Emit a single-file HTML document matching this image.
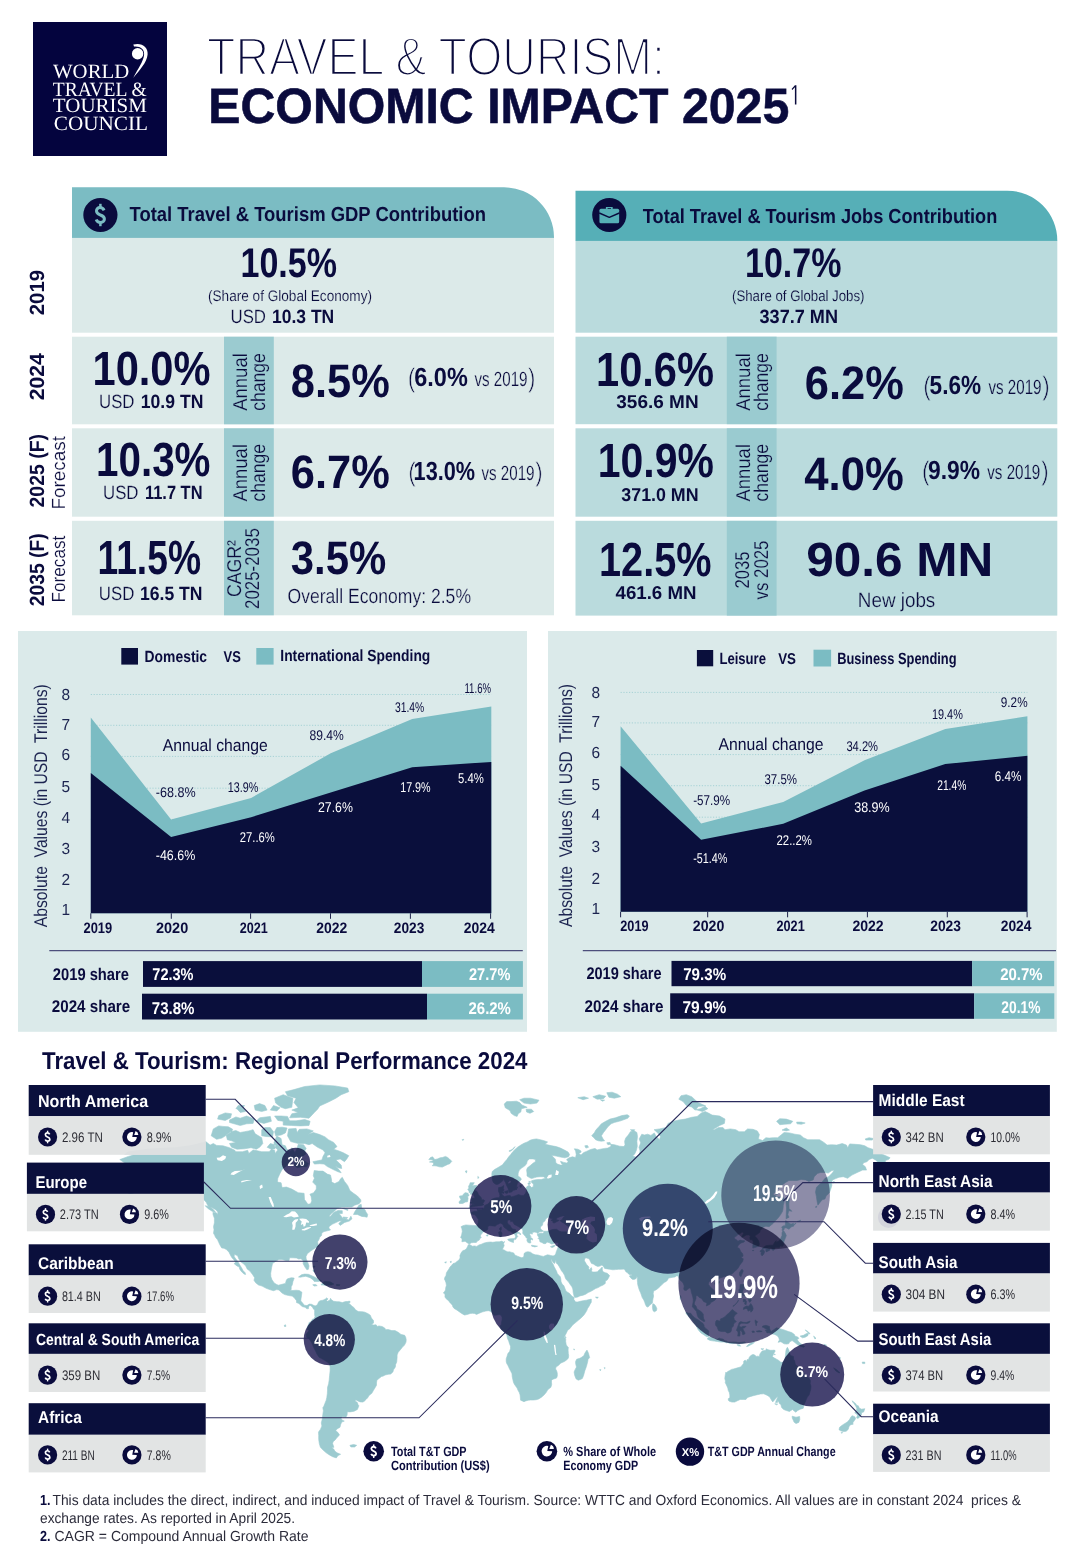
<!DOCTYPE html>
<html lang="en"><head><meta charset="utf-8"><title>Travel &amp; Tourism: Economic Impact 2025</title>
<style>html,body{margin:0;padding:0;background:#fff}body{width:1080px;height:1566px;overflow:hidden;font-family:"Liberation Sans",sans-serif}svg{display:block}text{white-space:pre}</style></head><body>
<svg width="1080" height="1566" viewBox="0 0 1080 1566" font-family="Liberation Sans, sans-serif" text-rendering="geometricPrecision">
<rect x="0.0" y="0.0" width="1080.0" height="1566.0" fill="#fff"/>
<g id="header">
<rect x="33.0" y="22.0" width="134.0" height="134.0" fill="#04043e"/>
<text x="53.0" y="78.4" font-family="Liberation Serif, sans-serif" font-size="20.3" font-weight="400" fill="#fff" textLength="76.2" lengthAdjust="spacingAndGlyphs">WORLD</text>
<text x="52.8" y="95.6" font-family="Liberation Serif, sans-serif" font-size="20.3" font-weight="400" fill="#fff" textLength="94.0" lengthAdjust="spacingAndGlyphs">TRAVEL &amp;</text>
<text x="52.8" y="112.4" font-family="Liberation Serif, sans-serif" font-size="20.3" font-weight="400" fill="#fff" textLength="94.2" lengthAdjust="spacingAndGlyphs">TOURISM</text>
<text x="53.8" y="129.8" font-family="Liberation Serif, sans-serif" font-size="20.3" font-weight="400" fill="#fff" textLength="94.2" lengthAdjust="spacingAndGlyphs">COUNCIL</text>
<circle cx="137.6" cy="53.8" r="5.7" fill="#fff"/>
<path d="M133.3,44.6 C141.5,42.3 148.3,46.8 147.6,54.6 C146.9,62.5 139.5,70.5 133.2,77.9 C137.6,69.5 143.6,61.5 144.1,54.6 C144.5,49.2 140.3,46.0 134.0,46.6 Z" fill="#fff"/>
<text x="207.0" y="75.2" font-family="Liberation Sans, sans-serif" font-size="53.8" font-weight="400" fill="#0a0b3d" textLength="458.0" lengthAdjust="spacingAndGlyphs" stroke="#fff" stroke-width="2.3">TRAVEL &amp; TOURISM:</text>
<text x="208.3" y="122.6" font-family="Liberation Sans, sans-serif" font-size="49.6" font-weight="700" fill="#0a0b3d" textLength="581.0" lengthAdjust="spacingAndGlyphs" stroke="#0a0b3d" stroke-width="0.6">ECONOMIC IMPACT 2025</text>
<path d="M791.6,88.9 L794.9,85.2 H796.4 V104.4 H794.9 V87.3 L792.3,90.0 Z" fill="#0a0b3d"/>
</g>
<g id="stats">
<path d="M72.0,187.3 H504.0 A50,50 0 0 1 554.0,237.3 V237.9 H72.0 Z" fill="#7bbcc3"/>
<rect x="72.0" y="237.9" width="482.0" height="94.8" fill="#dceae9"/>
<rect x="72.0" y="336.7" width="482.0" height="87.6" fill="#dceae9"/>
<rect x="224.0" y="336.7" width="49.8" height="87.6" fill="#9bcbd0"/>
<rect x="72.0" y="428.3" width="482.0" height="88.4" fill="#dceae9"/>
<rect x="224.0" y="428.3" width="49.8" height="88.4" fill="#9bcbd0"/>
<rect x="72.0" y="520.8" width="482.0" height="94.5" fill="#dceae9"/>
<rect x="224.0" y="520.8" width="49.8" height="94.5" fill="#9bcbd0"/>
<circle cx="100.4" cy="215.0" r="17.1" fill="#0a0b3d"/>
<g transform="translate(100.40,215.00) scale(1.0000)"><path d="M3.7,-4.6 C2.7,-6.8 0.9,-7.4 -0.4,-7.4 C-2.6,-7.4 -3.9,-5.8 -3.9,-4.0 C-3.9,-1.5 -1.8,-0.8 0.1,0.0 C2.4,0.9 4.0,1.8 4.0,4.0 C4.0,6.0 2.4,7.4 0.2,7.4 C-1.8,7.4 -3.4,6.6 -4.2,4.5" fill="none" stroke="#7bbcc3" stroke-width="3.0"/><rect x="-1.25" y="-11.2" width="2.5" height="3.6" fill="#7bbcc3"/><rect x="-1.25" y="7.6" width="2.5" height="3.6" fill="#7bbcc3"/></g>
<text x="129.5" y="220.7" font-family="Liberation Sans, sans-serif" font-size="20.3" font-weight="700" fill="#0a0b3d" textLength="356.5" lengthAdjust="spacingAndGlyphs">Total Travel &amp; Tourism GDP Contribution</text>
<text x="240.5" y="277.4" font-family="Liberation Sans, sans-serif" font-size="41.5" font-weight="700" fill="#0a0b3d" textLength="96.5" lengthAdjust="spacingAndGlyphs">10.5%</text>
<text x="208.0" y="300.6" font-family="Liberation Sans, sans-serif" font-size="15.3" font-weight="400" fill="#0a0b3d" textLength="164.0" lengthAdjust="spacingAndGlyphs" stroke="#dceae9" stroke-width="0.15">(Share of Global Economy)</text>
<text x="230.5" y="323.4" font-family="Liberation Sans, sans-serif" font-size="19.2" font-weight="400" fill="#0a0b3d" textLength="35.5" lengthAdjust="spacingAndGlyphs" stroke="#dceae9" stroke-width="0.2">USD</text>
<text x="272.0" y="323.4" font-family="Liberation Sans, sans-serif" font-size="19.2" font-weight="700" fill="#0a0b3d" textLength="62.2" lengthAdjust="spacingAndGlyphs">10.3 TN</text>
<text x="92.5" y="385.2" font-family="Liberation Sans, sans-serif" font-size="48.0" font-weight="700" fill="#0a0b3d" textLength="118.0" lengthAdjust="spacingAndGlyphs">10.0%</text>
<text x="99.0" y="408.4" font-family="Liberation Sans, sans-serif" font-size="19.2" font-weight="400" fill="#0a0b3d" textLength="35.5" lengthAdjust="spacingAndGlyphs" stroke="#dceae9" stroke-width="0.2">USD</text>
<text x="140.8" y="408.4" font-family="Liberation Sans, sans-serif" font-size="19.2" font-weight="700" fill="#0a0b3d" textLength="62.6" lengthAdjust="spacingAndGlyphs">10.9 TN</text>
<text x="290.8" y="397.4" font-family="Liberation Sans, sans-serif" font-size="47.0" font-weight="700" fill="#0a0b3d" textLength="99.0" lengthAdjust="spacingAndGlyphs">8.5%</text>
<text x="408.0" y="386.6" font-family="Liberation Sans, sans-serif" font-size="26.5" font-weight="400" fill="#0a0b3d" textLength="7.0" lengthAdjust="spacingAndGlyphs" stroke="#dceae9" stroke-width="0.6">(</text>
<text x="414.3" y="386.1" font-family="Liberation Sans, sans-serif" font-size="26.3" font-weight="700" fill="#0a0b3d" textLength="53.5" lengthAdjust="spacingAndGlyphs">6.0%</text>
<text x="474.5" y="386.1" font-family="Liberation Sans, sans-serif" font-size="20.6" font-weight="400" fill="#0a0b3d" textLength="53.0" lengthAdjust="spacingAndGlyphs" stroke="#dceae9" stroke-width="0.2">vs 2019</text>
<text x="528.3" y="386.6" font-family="Liberation Sans, sans-serif" font-size="26.5" font-weight="400" fill="#0a0b3d" textLength="7.0" lengthAdjust="spacingAndGlyphs" stroke="#dceae9" stroke-width="0.6">)</text>
<text x="96.0" y="476.1" font-family="Liberation Sans, sans-serif" font-size="48.0" font-weight="700" fill="#0a0b3d" textLength="114.5" lengthAdjust="spacingAndGlyphs">10.3%</text>
<text x="103.0" y="499.4" font-family="Liberation Sans, sans-serif" font-size="19.2" font-weight="400" fill="#0a0b3d" textLength="35.5" lengthAdjust="spacingAndGlyphs" stroke="#dceae9" stroke-width="0.2">USD</text>
<text x="145.0" y="499.4" font-family="Liberation Sans, sans-serif" font-size="19.2" font-weight="700" fill="#0a0b3d" textLength="57.5" lengthAdjust="spacingAndGlyphs">11.7 TN</text>
<text x="290.8" y="488.4" font-family="Liberation Sans, sans-serif" font-size="47.0" font-weight="700" fill="#0a0b3d" textLength="99.0" lengthAdjust="spacingAndGlyphs">6.7%</text>
<text x="408.6" y="480.6" font-family="Liberation Sans, sans-serif" font-size="26.5" font-weight="400" fill="#0a0b3d" textLength="7.0" lengthAdjust="spacingAndGlyphs" stroke="#dceae9" stroke-width="0.6">(</text>
<text x="413.6" y="480.1" font-family="Liberation Sans, sans-serif" font-size="26.3" font-weight="700" fill="#0a0b3d" textLength="61.5" lengthAdjust="spacingAndGlyphs">13.0%</text>
<text x="481.5" y="480.1" font-family="Liberation Sans, sans-serif" font-size="20.6" font-weight="400" fill="#0a0b3d" textLength="53.0" lengthAdjust="spacingAndGlyphs" stroke="#dceae9" stroke-width="0.2">vs 2019</text>
<text x="535.5" y="480.6" font-family="Liberation Sans, sans-serif" font-size="26.5" font-weight="400" fill="#0a0b3d" textLength="7.0" lengthAdjust="spacingAndGlyphs" stroke="#dceae9" stroke-width="0.6">)</text>
<text x="97.5" y="574.1" font-family="Liberation Sans, sans-serif" font-size="48.0" font-weight="700" fill="#0a0b3d" textLength="103.5" lengthAdjust="spacingAndGlyphs">11.5%</text>
<text x="98.8" y="600.0" font-family="Liberation Sans, sans-serif" font-size="19.2" font-weight="400" fill="#0a0b3d" textLength="35.5" lengthAdjust="spacingAndGlyphs" stroke="#dceae9" stroke-width="0.2">USD</text>
<text x="140.0" y="600.0" font-family="Liberation Sans, sans-serif" font-size="19.2" font-weight="700" fill="#0a0b3d" textLength="62.5" lengthAdjust="spacingAndGlyphs">16.5 TN</text>
<text x="290.8" y="574.1" font-family="Liberation Sans, sans-serif" font-size="47.0" font-weight="700" fill="#0a0b3d" textLength="95.5" lengthAdjust="spacingAndGlyphs">3.5%</text>
<text x="287.5" y="602.7" font-family="Liberation Sans, sans-serif" font-size="20.6" font-weight="400" fill="#0a0b3d" textLength="183.5" lengthAdjust="spacingAndGlyphs" stroke="#dceae9" stroke-width="0.25">Overall Economy: 2.5%</text>
<text transform="translate(246.6,410.8) rotate(-90)" font-family="Liberation Sans, sans-serif" font-size="20.0" font-weight="400" fill="#0a0b3d" textLength="57.6" lengthAdjust="spacingAndGlyphs" stroke="#9bcbd0" stroke-width="0.2">Annual</text>
<text transform="translate(264.6,410.8) rotate(-90)" font-family="Liberation Sans, sans-serif" font-size="20.0" font-weight="400" fill="#0a0b3d" textLength="57.6" lengthAdjust="spacingAndGlyphs" stroke="#9bcbd0" stroke-width="0.2">change</text>
<text transform="translate(246.6,501.6) rotate(-90)" font-family="Liberation Sans, sans-serif" font-size="20.0" font-weight="400" fill="#0a0b3d" textLength="57.6" lengthAdjust="spacingAndGlyphs" stroke="#9bcbd0" stroke-width="0.2">Annual</text>
<text transform="translate(264.6,501.6) rotate(-90)" font-family="Liberation Sans, sans-serif" font-size="20.0" font-weight="400" fill="#0a0b3d" textLength="57.6" lengthAdjust="spacingAndGlyphs" stroke="#9bcbd0" stroke-width="0.2">change</text>
<text transform="translate(240.8,597.0) rotate(-90)" font-family="Liberation Sans, sans-serif" font-size="20.0" font-weight="400" fill="#0a0b3d" textLength="57.0" lengthAdjust="spacingAndGlyphs" stroke="#9bcbd0" stroke-width="0.2">CAGR²</text>
<text transform="translate(258.8,609.0) rotate(-90)" font-family="Liberation Sans, sans-serif" font-size="20.0" font-weight="400" fill="#0a0b3d" textLength="80.8" lengthAdjust="spacingAndGlyphs" stroke="#9bcbd0" stroke-width="0.2">2025-2035</text>
<text transform="translate(44.3,315.3) rotate(-90)" font-family="Liberation Sans, sans-serif" font-size="20.6" font-weight="700" fill="#0a0b3d" textLength="45.5" lengthAdjust="spacingAndGlyphs">2019</text>
<text transform="translate(44.3,400.3) rotate(-90)" font-family="Liberation Sans, sans-serif" font-size="20.6" font-weight="700" fill="#0a0b3d" textLength="47.0" lengthAdjust="spacingAndGlyphs">2024</text>
<text transform="translate(44.3,507.5) rotate(-90)" font-family="Liberation Sans, sans-serif" font-size="20.6" font-weight="700" fill="#0a0b3d" textLength="73.5" lengthAdjust="spacingAndGlyphs">2025 (F)</text>
<text transform="translate(64.6,509.5) rotate(-90)" font-family="Liberation Sans, sans-serif" font-size="19.0" font-weight="400" fill="#0a0b3d" textLength="73.5" lengthAdjust="spacingAndGlyphs" stroke="#fff" stroke-width="0.2">Forecast</text>
<text transform="translate(44.3,606.3) rotate(-90)" font-family="Liberation Sans, sans-serif" font-size="20.6" font-weight="700" fill="#0a0b3d" textLength="73.0" lengthAdjust="spacingAndGlyphs">2035 (F)</text>
<text transform="translate(64.6,602.5) rotate(-90)" font-family="Liberation Sans, sans-serif" font-size="19.0" font-weight="400" fill="#0a0b3d" textLength="66.8" lengthAdjust="spacingAndGlyphs" stroke="#fff" stroke-width="0.2">Forecast</text>
<path d="M575.5,190.7 H1007.3 A50,50 0 0 1 1057.3,240.7 V240.9 H575.5 Z" fill="#56afb7"/>
<rect x="575.5" y="240.9" width="481.8" height="91.8" fill="#badbdd"/>
<rect x="575.5" y="336.7" width="481.8" height="87.5" fill="#badbdd"/>
<rect x="726.8" y="336.7" width="49.8" height="87.5" fill="#9acbd0"/>
<rect x="575.5" y="428.3" width="481.8" height="88.4" fill="#badbdd"/>
<rect x="726.8" y="428.3" width="49.8" height="88.4" fill="#9acbd0"/>
<rect x="575.5" y="520.8" width="481.8" height="94.8" fill="#badbdd"/>
<rect x="726.8" y="520.8" width="49.8" height="94.8" fill="#9acbd0"/>
<circle cx="609.3" cy="215.0" r="17.1" fill="#0a0b3d"/>
<rect x="599.45" y="208.70" width="19.70" height="14.50" rx="1.5" fill="#56afb7"/>
<path d="M605.90,208.90 V207.00 H612.70 V208.90 H611.00 V208.00 H607.60 V208.90 Z" fill="#56afb7"/>
<path d="M599.25,213.00 L609.30,217.30 L619.35,213.00" fill="none" stroke="#0a0b3d" stroke-width="1.45" stroke-linejoin="round"/>
<text x="642.8" y="222.7" font-family="Liberation Sans, sans-serif" font-size="20.3" font-weight="700" fill="#0a0b3d" textLength="354.5" lengthAdjust="spacingAndGlyphs">Total Travel &amp; Tourism Jobs Contribution</text>
<text x="745.0" y="277.4" font-family="Liberation Sans, sans-serif" font-size="41.5" font-weight="700" fill="#0a0b3d" textLength="96.5" lengthAdjust="spacingAndGlyphs">10.7%</text>
<text x="732.0" y="300.6" font-family="Liberation Sans, sans-serif" font-size="15.3" font-weight="400" fill="#0a0b3d" textLength="132.5" lengthAdjust="spacingAndGlyphs" stroke="#badbdd" stroke-width="0.15">(Share of Global Jobs)</text>
<text x="759.5" y="323.4" font-family="Liberation Sans, sans-serif" font-size="19.2" font-weight="700" fill="#0a0b3d" textLength="78.5" lengthAdjust="spacingAndGlyphs">337.7 MN</text>
<text x="596.0" y="386.1" font-family="Liberation Sans, sans-serif" font-size="48.0" font-weight="700" fill="#0a0b3d" textLength="118.0" lengthAdjust="spacingAndGlyphs">10.6%</text>
<text x="616.3" y="408.4" font-family="Liberation Sans, sans-serif" font-size="18.6" font-weight="700" fill="#0a0b3d" textLength="82.3" lengthAdjust="spacingAndGlyphs">356.6 MN</text>
<text x="804.8" y="399.1" font-family="Liberation Sans, sans-serif" font-size="47.0" font-weight="700" fill="#0a0b3d" textLength="99.0" lengthAdjust="spacingAndGlyphs">6.2%</text>
<text x="923.6" y="394.9" font-family="Liberation Sans, sans-serif" font-size="26.5" font-weight="400" fill="#0a0b3d" textLength="7.0" lengthAdjust="spacingAndGlyphs" stroke="#badbdd" stroke-width="0.6">(</text>
<text x="929.6" y="394.4" font-family="Liberation Sans, sans-serif" font-size="26.3" font-weight="700" fill="#0a0b3d" textLength="51.5" lengthAdjust="spacingAndGlyphs">5.6%</text>
<text x="988.5" y="394.4" font-family="Liberation Sans, sans-serif" font-size="20.6" font-weight="400" fill="#0a0b3d" textLength="53.0" lengthAdjust="spacingAndGlyphs" stroke="#badbdd" stroke-width="0.2">vs 2019</text>
<text x="1042.5" y="394.9" font-family="Liberation Sans, sans-serif" font-size="26.5" font-weight="400" fill="#0a0b3d" textLength="7.0" lengthAdjust="spacingAndGlyphs" stroke="#badbdd" stroke-width="0.6">)</text>
<text x="597.8" y="476.8" font-family="Liberation Sans, sans-serif" font-size="48.0" font-weight="700" fill="#0a0b3d" textLength="116.0" lengthAdjust="spacingAndGlyphs">10.9%</text>
<text x="621.3" y="501.1" font-family="Liberation Sans, sans-serif" font-size="18.6" font-weight="700" fill="#0a0b3d" textLength="77.3" lengthAdjust="spacingAndGlyphs">371.0 MN</text>
<text x="804.3" y="489.5" font-family="Liberation Sans, sans-serif" font-size="47.0" font-weight="700" fill="#0a0b3d" textLength="99.5" lengthAdjust="spacingAndGlyphs">4.0%</text>
<text x="922.3" y="479.6" font-family="Liberation Sans, sans-serif" font-size="26.5" font-weight="400" fill="#0a0b3d" textLength="7.0" lengthAdjust="spacingAndGlyphs" stroke="#badbdd" stroke-width="0.6">(</text>
<text x="928.0" y="479.1" font-family="Liberation Sans, sans-serif" font-size="26.3" font-weight="700" fill="#0a0b3d" textLength="52.0" lengthAdjust="spacingAndGlyphs">9.9%</text>
<text x="987.3" y="479.1" font-family="Liberation Sans, sans-serif" font-size="20.6" font-weight="400" fill="#0a0b3d" textLength="53.0" lengthAdjust="spacingAndGlyphs" stroke="#badbdd" stroke-width="0.2">vs 2019</text>
<text x="1041.5" y="479.6" font-family="Liberation Sans, sans-serif" font-size="26.5" font-weight="400" fill="#0a0b3d" textLength="7.0" lengthAdjust="spacingAndGlyphs" stroke="#badbdd" stroke-width="0.6">)</text>
<text x="599.0" y="576.1" font-family="Liberation Sans, sans-serif" font-size="48.0" font-weight="700" fill="#0a0b3d" textLength="112.5" lengthAdjust="spacingAndGlyphs">12.5%</text>
<text x="615.5" y="599.1" font-family="Liberation Sans, sans-serif" font-size="18.6" font-weight="700" fill="#0a0b3d" textLength="81.0" lengthAdjust="spacingAndGlyphs">461.6 MN</text>
<text x="806.3" y="576.1" font-family="Liberation Sans, sans-serif" font-size="48.0" font-weight="700" fill="#0a0b3d" textLength="187.0" lengthAdjust="spacingAndGlyphs">90.6 MN</text>
<text x="857.8" y="606.7" font-family="Liberation Sans, sans-serif" font-size="20.6" font-weight="400" fill="#0a0b3d" textLength="77.5" lengthAdjust="spacingAndGlyphs" stroke="#badbdd" stroke-width="0.25">New jobs</text>
<text transform="translate(749.9,410.8) rotate(-90)" font-family="Liberation Sans, sans-serif" font-size="20.0" font-weight="400" fill="#0a0b3d" textLength="57.6" lengthAdjust="spacingAndGlyphs" stroke="#9acbd0" stroke-width="0.2">Annual</text>
<text transform="translate(767.6,410.8) rotate(-90)" font-family="Liberation Sans, sans-serif" font-size="20.0" font-weight="400" fill="#0a0b3d" textLength="57.6" lengthAdjust="spacingAndGlyphs" stroke="#9acbd0" stroke-width="0.2">change</text>
<text transform="translate(749.9,501.6) rotate(-90)" font-family="Liberation Sans, sans-serif" font-size="20.0" font-weight="400" fill="#0a0b3d" textLength="57.6" lengthAdjust="spacingAndGlyphs" stroke="#9acbd0" stroke-width="0.2">Annual</text>
<text transform="translate(767.6,501.6) rotate(-90)" font-family="Liberation Sans, sans-serif" font-size="20.0" font-weight="400" fill="#0a0b3d" textLength="57.6" lengthAdjust="spacingAndGlyphs" stroke="#9acbd0" stroke-width="0.2">change</text>
<text transform="translate(749.3,588.5) rotate(-90)" font-family="Liberation Sans, sans-serif" font-size="20.0" font-weight="400" fill="#0a0b3d" textLength="37.0" lengthAdjust="spacingAndGlyphs" stroke="#9acbd0" stroke-width="0.2">2035</text>
<text transform="translate(768.2,599.5) rotate(-90)" font-family="Liberation Sans, sans-serif" font-size="20.0" font-weight="400" fill="#0a0b3d" textLength="59.0" lengthAdjust="spacingAndGlyphs" stroke="#9acbd0" stroke-width="0.2">vs 2025</text>
</g>
<g id="charts">
<rect x="18.0" y="631.0" width="509.0" height="400.8" fill="#dbeaea"/>
<rect x="121.3" y="648.0" width="16.7" height="16.6" fill="#0a0f3c"/>
<text x="144.6" y="661.8" font-family="Liberation Sans, sans-serif" font-size="16.2" font-weight="700" fill="#0a0b3d" textLength="62.5" lengthAdjust="spacingAndGlyphs">Domestic</text>
<text x="223.5" y="662.4" font-family="Liberation Sans, sans-serif" font-size="15.6" font-weight="700" fill="#0a0b3d" textLength="17.3" lengthAdjust="spacingAndGlyphs">VS</text>
<rect x="256.3" y="648.0" width="17.3" height="16.6" fill="#7bbcc3"/>
<text x="280.3" y="661.4" font-family="Liberation Sans, sans-serif" font-size="16.2" font-weight="700" fill="#0a0b3d" textLength="150.0" lengthAdjust="spacingAndGlyphs">International Spending</text>
<line x1="90.8" y1="694.5" x2="491.3" y2="694.5" stroke="#a6d2d5" stroke-width="1" stroke-dasharray="1.2 1.6"/>
<line x1="90.8" y1="725.3" x2="491.3" y2="725.3" stroke="#a6d2d5" stroke-width="1" stroke-dasharray="1.2 1.6"/>
<line x1="90.8" y1="756.4" x2="491.3" y2="756.4" stroke="#a6d2d5" stroke-width="1" stroke-dasharray="1.2 1.6"/>
<line x1="90.8" y1="788.2" x2="491.3" y2="788.2" stroke="#a6d2d5" stroke-width="1" stroke-dasharray="1.2 1.6"/>
<line x1="90.8" y1="819.4" x2="491.3" y2="819.4" stroke="#a6d2d5" stroke-width="1" stroke-dasharray="1.2 1.6"/>
<polygon points="90.8,717.5 171.1,819.4 251.1,798.0 330.7,753.3 412.2,719.1 491.3,706.5 491.3,913.3 90.8,913.3" fill="#7bbcc3"/>
<polygon points="90.8,773.1 171.1,837.1 251.1,817.2 330.7,792.4 412.2,767.2 491.3,761.9 491.3,913.3 90.8,913.3" fill="#0a0f3c"/>
<line x1="90.8" y1="913.3" x2="90.8" y2="918.8" stroke="#0a0f3c" stroke-width="0.9"/>
<line x1="171.3" y1="913.3" x2="171.3" y2="918.8" stroke="#0a0f3c" stroke-width="0.9"/>
<line x1="250.6" y1="913.3" x2="250.6" y2="918.8" stroke="#0a0f3c" stroke-width="0.9"/>
<line x1="330.5" y1="913.3" x2="330.5" y2="918.8" stroke="#0a0f3c" stroke-width="0.9"/>
<line x1="410.4" y1="913.3" x2="410.4" y2="918.8" stroke="#0a0f3c" stroke-width="0.9"/>
<line x1="490.6" y1="913.3" x2="490.6" y2="918.8" stroke="#0a0f3c" stroke-width="0.9"/>
<text x="61.6" y="699.6" font-family="Liberation Sans, sans-serif" font-size="16.0" font-weight="400" fill="#1c2450" textLength="8.6" lengthAdjust="spacingAndGlyphs">8</text>
<text x="61.6" y="729.7" font-family="Liberation Sans, sans-serif" font-size="16.0" font-weight="400" fill="#1c2450" textLength="8.6" lengthAdjust="spacingAndGlyphs">7</text>
<text x="61.6" y="760.3" font-family="Liberation Sans, sans-serif" font-size="16.0" font-weight="400" fill="#1c2450" textLength="8.6" lengthAdjust="spacingAndGlyphs">6</text>
<text x="61.6" y="792.0" font-family="Liberation Sans, sans-serif" font-size="16.0" font-weight="400" fill="#1c2450" textLength="8.6" lengthAdjust="spacingAndGlyphs">5</text>
<text x="61.6" y="822.6" font-family="Liberation Sans, sans-serif" font-size="16.0" font-weight="400" fill="#1c2450" textLength="8.6" lengthAdjust="spacingAndGlyphs">4</text>
<text x="61.6" y="854.4" font-family="Liberation Sans, sans-serif" font-size="16.0" font-weight="400" fill="#1c2450" textLength="8.6" lengthAdjust="spacingAndGlyphs">3</text>
<text x="61.6" y="885.0" font-family="Liberation Sans, sans-serif" font-size="16.0" font-weight="400" fill="#1c2450" textLength="8.6" lengthAdjust="spacingAndGlyphs">2</text>
<text x="61.6" y="915.0" font-family="Liberation Sans, sans-serif" font-size="16.0" font-weight="400" fill="#1c2450" textLength="8.6" lengthAdjust="spacingAndGlyphs">1</text>
<text transform="translate(46.6,927.2) rotate(-90)" font-family="Liberation Sans, sans-serif" font-size="18.4" font-weight="400" fill="#1c2450" textLength="243.0" lengthAdjust="spacingAndGlyphs">Absolute  Values (in USD  Trillions)</text>
<text x="83.5" y="933.2" font-family="Liberation Sans, sans-serif" font-size="15.2" font-weight="700" fill="#0a0b3d" textLength="28.7" lengthAdjust="spacingAndGlyphs">2019</text>
<text x="156.0" y="933.2" font-family="Liberation Sans, sans-serif" font-size="15.2" font-weight="700" fill="#0a0b3d" textLength="32.2" lengthAdjust="spacingAndGlyphs">2020</text>
<text x="239.8" y="933.2" font-family="Liberation Sans, sans-serif" font-size="15.2" font-weight="700" fill="#0a0b3d" textLength="28.0" lengthAdjust="spacingAndGlyphs">2021</text>
<text x="316.2" y="933.2" font-family="Liberation Sans, sans-serif" font-size="15.2" font-weight="700" fill="#0a0b3d" textLength="31.0" lengthAdjust="spacingAndGlyphs">2022</text>
<text x="393.8" y="933.2" font-family="Liberation Sans, sans-serif" font-size="15.2" font-weight="700" fill="#0a0b3d" textLength="30.5" lengthAdjust="spacingAndGlyphs">2023</text>
<text x="463.8" y="933.2" font-family="Liberation Sans, sans-serif" font-size="15.2" font-weight="700" fill="#0a0b3d" textLength="31.0" lengthAdjust="spacingAndGlyphs">2024</text>
<text x="162.8" y="751.3" font-family="Liberation Sans, sans-serif" font-size="17.2" font-weight="400" fill="#0a0b3d" textLength="105.0" lengthAdjust="spacingAndGlyphs">Annual change</text>
<text x="155.8" y="796.8" font-family="Liberation Sans, sans-serif" font-size="14.1" font-weight="400" fill="#0a0b3d" textLength="39.8" lengthAdjust="spacingAndGlyphs">-68.8%</text>
<text x="227.8" y="792.0" font-family="Liberation Sans, sans-serif" font-size="14.1" font-weight="400" fill="#0a0b3d" textLength="30.5" lengthAdjust="spacingAndGlyphs">13.9%</text>
<text x="309.5" y="739.9" font-family="Liberation Sans, sans-serif" font-size="14.1" font-weight="400" fill="#0a0b3d" textLength="34.3" lengthAdjust="spacingAndGlyphs">89.4%</text>
<text x="395.0" y="712.4" font-family="Liberation Sans, sans-serif" font-size="14.1" font-weight="400" fill="#0a0b3d" textLength="29.3" lengthAdjust="spacingAndGlyphs">31.4%</text>
<text x="464.5" y="693.0" font-family="Liberation Sans, sans-serif" font-size="14.1" font-weight="400" fill="#0a0b3d" textLength="26.5" lengthAdjust="spacingAndGlyphs">11.6%</text>
<text x="155.8" y="859.5" font-family="Liberation Sans, sans-serif" font-size="14.1" font-weight="400" fill="#fff" textLength="39.4" lengthAdjust="spacingAndGlyphs">-46.6%</text>
<text x="239.8" y="841.8" font-family="Liberation Sans, sans-serif" font-size="14.1" font-weight="400" fill="#fff" textLength="35.0" lengthAdjust="spacingAndGlyphs">27..6%</text>
<text x="318.0" y="812.2" font-family="Liberation Sans, sans-serif" font-size="14.1" font-weight="400" fill="#fff" textLength="34.9" lengthAdjust="spacingAndGlyphs">27.6%</text>
<text x="400.2" y="791.7" font-family="Liberation Sans, sans-serif" font-size="14.1" font-weight="400" fill="#fff" textLength="30.4" lengthAdjust="spacingAndGlyphs">17.9%</text>
<text x="458.0" y="783.2" font-family="Liberation Sans, sans-serif" font-size="14.1" font-weight="400" fill="#fff" textLength="25.8" lengthAdjust="spacingAndGlyphs">5.4%</text>
<line x1="49.3" y1="950.7" x2="522.8" y2="950.7" stroke="#4d4f7c" stroke-width="1.2"/>
<text x="52.8" y="980.0" font-family="Liberation Sans, sans-serif" font-size="17.0" font-weight="700" fill="#0a0b3d" textLength="76.2" lengthAdjust="spacingAndGlyphs">2019 share</text>
<text x="51.8" y="1012.0" font-family="Liberation Sans, sans-serif" font-size="17.0" font-weight="700" fill="#0a0b3d" textLength="78.4" lengthAdjust="spacingAndGlyphs">2024 share</text>
<rect x="143.0" y="961.1" width="279.0" height="25.8" fill="#0a0f3c"/>
<rect x="422.0" y="961.1" width="100.9" height="25.8" fill="#7bbcc3"/>
<rect x="142.0" y="993.7" width="285.0" height="25.8" fill="#0a0f3c"/>
<rect x="427.0" y="993.7" width="95.9" height="25.8" fill="#7bbcc3"/>
<text x="152.3" y="980.2" font-family="Liberation Sans, sans-serif" font-size="17.0" font-weight="700" fill="#fff" textLength="41.2" lengthAdjust="spacingAndGlyphs">72.3%</text>
<text x="151.8" y="1013.8" font-family="Liberation Sans, sans-serif" font-size="17.0" font-weight="700" fill="#fff" textLength="42.7" lengthAdjust="spacingAndGlyphs">73.8%</text>
<text x="469.0" y="980.0" font-family="Liberation Sans, sans-serif" font-size="17.0" font-weight="700" fill="#fff" textLength="41.4" lengthAdjust="spacingAndGlyphs">27.7%</text>
<text x="468.5" y="1013.6" font-family="Liberation Sans, sans-serif" font-size="17.0" font-weight="700" fill="#fff" textLength="42.4" lengthAdjust="spacingAndGlyphs">26.2%</text>
<rect x="548.0" y="631.0" width="508.8" height="400.8" fill="#dbeaea"/>
<rect x="696.9" y="650.0" width="16.3" height="16.3" fill="#0a0f3c"/>
<text x="719.4" y="663.9" font-family="Liberation Sans, sans-serif" font-size="16.2" font-weight="700" fill="#0a0b3d" textLength="46.6" lengthAdjust="spacingAndGlyphs">Leisure</text>
<text x="778.2" y="664.4" font-family="Liberation Sans, sans-serif" font-size="15.6" font-weight="700" fill="#0a0b3d" textLength="17.8" lengthAdjust="spacingAndGlyphs">VS</text>
<rect x="813.5" y="649.7" width="17.6" height="16.8" fill="#7bbcc3"/>
<text x="837.2" y="663.5" font-family="Liberation Sans, sans-serif" font-size="16.2" font-weight="700" fill="#0a0b3d" textLength="119.4" lengthAdjust="spacingAndGlyphs">Business Spending</text>
<line x1="620.6" y1="692.4" x2="1027.4" y2="692.4" stroke="#a6d2d5" stroke-width="1" stroke-dasharray="1.2 1.6"/>
<line x1="620.6" y1="722.9" x2="1027.4" y2="722.9" stroke="#a6d2d5" stroke-width="1" stroke-dasharray="1.2 1.6"/>
<line x1="620.6" y1="754.6" x2="1027.4" y2="754.6" stroke="#a6d2d5" stroke-width="1" stroke-dasharray="1.2 1.6"/>
<line x1="620.6" y1="785.7" x2="1027.4" y2="785.7" stroke="#a6d2d5" stroke-width="1" stroke-dasharray="1.2 1.6"/>
<line x1="620.6" y1="817.2" x2="1027.4" y2="817.2" stroke="#a6d2d5" stroke-width="1" stroke-dasharray="1.2 1.6"/>
<polygon points="620.6,726.3 701.1,823.4 783.2,802.0 864.5,760.3 945.3,728.9 1027.4,716.3 1027.4,911.8 620.6,911.8" fill="#7bbcc3"/>
<polygon points="620.6,765.8 701.1,839.7 783.2,823.8 864.5,790.6 945.3,764.1 1027.4,755.8 1027.4,911.8 620.6,911.8" fill="#0a0f3c"/>
<line x1="620.6" y1="911.8" x2="620.6" y2="917.3" stroke="#0a0f3c" stroke-width="0.9"/>
<line x1="707.7" y1="911.8" x2="707.7" y2="917.3" stroke="#0a0f3c" stroke-width="0.9"/>
<line x1="787.6" y1="911.8" x2="787.6" y2="917.3" stroke="#0a0f3c" stroke-width="0.9"/>
<line x1="867.4" y1="911.8" x2="867.4" y2="917.3" stroke="#0a0f3c" stroke-width="0.9"/>
<line x1="947.3" y1="911.8" x2="947.3" y2="917.3" stroke="#0a0f3c" stroke-width="0.9"/>
<line x1="1027.1" y1="911.8" x2="1027.1" y2="917.3" stroke="#0a0f3c" stroke-width="0.9"/>
<text x="591.5" y="698.4" font-family="Liberation Sans, sans-serif" font-size="16.0" font-weight="400" fill="#1c2450" textLength="8.6" lengthAdjust="spacingAndGlyphs">8</text>
<text x="591.5" y="727.0" font-family="Liberation Sans, sans-serif" font-size="16.0" font-weight="400" fill="#1c2450" textLength="8.6" lengthAdjust="spacingAndGlyphs">7</text>
<text x="591.5" y="758.0" font-family="Liberation Sans, sans-serif" font-size="16.0" font-weight="400" fill="#1c2450" textLength="8.6" lengthAdjust="spacingAndGlyphs">6</text>
<text x="591.5" y="789.6" font-family="Liberation Sans, sans-serif" font-size="16.0" font-weight="400" fill="#1c2450" textLength="8.6" lengthAdjust="spacingAndGlyphs">5</text>
<text x="591.5" y="820.2" font-family="Liberation Sans, sans-serif" font-size="16.0" font-weight="400" fill="#1c2450" textLength="8.6" lengthAdjust="spacingAndGlyphs">4</text>
<text x="591.5" y="852.0" font-family="Liberation Sans, sans-serif" font-size="16.0" font-weight="400" fill="#1c2450" textLength="8.6" lengthAdjust="spacingAndGlyphs">3</text>
<text x="591.5" y="883.7" font-family="Liberation Sans, sans-serif" font-size="16.0" font-weight="400" fill="#1c2450" textLength="8.6" lengthAdjust="spacingAndGlyphs">2</text>
<text x="591.5" y="914.3" font-family="Liberation Sans, sans-serif" font-size="16.0" font-weight="400" fill="#1c2450" textLength="8.6" lengthAdjust="spacingAndGlyphs">1</text>
<text transform="translate(572.2,927.0) rotate(-90)" font-family="Liberation Sans, sans-serif" font-size="18.4" font-weight="400" fill="#1c2450" textLength="243.0" lengthAdjust="spacingAndGlyphs">Absolute  Values (in USD  Trillions)</text>
<text x="620.3" y="930.6" font-family="Liberation Sans, sans-serif" font-size="15.2" font-weight="700" fill="#0a0b3d" textLength="28.3" lengthAdjust="spacingAndGlyphs">2019</text>
<text x="692.8" y="930.6" font-family="Liberation Sans, sans-serif" font-size="15.2" font-weight="700" fill="#0a0b3d" textLength="31.5" lengthAdjust="spacingAndGlyphs">2020</text>
<text x="776.5" y="930.6" font-family="Liberation Sans, sans-serif" font-size="15.2" font-weight="700" fill="#0a0b3d" textLength="28.2" lengthAdjust="spacingAndGlyphs">2021</text>
<text x="852.4" y="930.6" font-family="Liberation Sans, sans-serif" font-size="15.2" font-weight="700" fill="#0a0b3d" textLength="31.3" lengthAdjust="spacingAndGlyphs">2022</text>
<text x="930.2" y="930.6" font-family="Liberation Sans, sans-serif" font-size="15.2" font-weight="700" fill="#0a0b3d" textLength="30.8" lengthAdjust="spacingAndGlyphs">2023</text>
<text x="1000.7" y="930.6" font-family="Liberation Sans, sans-serif" font-size="15.2" font-weight="700" fill="#0a0b3d" textLength="30.8" lengthAdjust="spacingAndGlyphs">2024</text>
<text x="718.6" y="750.3" font-family="Liberation Sans, sans-serif" font-size="17.2" font-weight="400" fill="#0a0b3d" textLength="105.0" lengthAdjust="spacingAndGlyphs">Annual change</text>
<text x="693.2" y="805.2" font-family="Liberation Sans, sans-serif" font-size="14.1" font-weight="400" fill="#0a0b3d" textLength="37.0" lengthAdjust="spacingAndGlyphs">-57.9%</text>
<text x="764.5" y="783.9" font-family="Liberation Sans, sans-serif" font-size="14.1" font-weight="400" fill="#0a0b3d" textLength="32.5" lengthAdjust="spacingAndGlyphs">37.5%</text>
<text x="846.4" y="751.3" font-family="Liberation Sans, sans-serif" font-size="14.1" font-weight="400" fill="#0a0b3d" textLength="31.6" lengthAdjust="spacingAndGlyphs">34.2%</text>
<text x="932.0" y="718.9" font-family="Liberation Sans, sans-serif" font-size="14.1" font-weight="400" fill="#0a0b3d" textLength="30.8" lengthAdjust="spacingAndGlyphs">19.4%</text>
<text x="1000.8" y="707.4" font-family="Liberation Sans, sans-serif" font-size="14.1" font-weight="400" fill="#0a0b3d" textLength="26.8" lengthAdjust="spacingAndGlyphs">9.2%</text>
<text x="693.2" y="862.9" font-family="Liberation Sans, sans-serif" font-size="14.1" font-weight="400" fill="#fff" textLength="34.2" lengthAdjust="spacingAndGlyphs">-51.4%</text>
<text x="776.5" y="844.8" font-family="Liberation Sans, sans-serif" font-size="14.1" font-weight="400" fill="#fff" textLength="35.5" lengthAdjust="spacingAndGlyphs">22..2%</text>
<text x="854.2" y="812.2" font-family="Liberation Sans, sans-serif" font-size="14.1" font-weight="400" fill="#fff" textLength="35.5" lengthAdjust="spacingAndGlyphs">38.9%</text>
<text x="937.2" y="790.2" font-family="Liberation Sans, sans-serif" font-size="14.1" font-weight="400" fill="#fff" textLength="29.1" lengthAdjust="spacingAndGlyphs">21.4%</text>
<text x="994.8" y="781.3" font-family="Liberation Sans, sans-serif" font-size="14.1" font-weight="400" fill="#fff" textLength="26.7" lengthAdjust="spacingAndGlyphs">6.4%</text>
<line x1="582.8" y1="950.7" x2="1056.0" y2="950.7" stroke="#4d4f7c" stroke-width="1.2"/>
<text x="586.4" y="978.6" font-family="Liberation Sans, sans-serif" font-size="17.0" font-weight="700" fill="#0a0b3d" textLength="75.2" lengthAdjust="spacingAndGlyphs">2019 share</text>
<text x="584.6" y="1011.5" font-family="Liberation Sans, sans-serif" font-size="17.0" font-weight="700" fill="#0a0b3d" textLength="78.8" lengthAdjust="spacingAndGlyphs">2024 share</text>
<rect x="671.5" y="960.9" width="300.7" height="25.3" fill="#0a0f3c"/>
<rect x="972.2" y="960.9" width="82.0" height="25.3" fill="#7bbcc3"/>
<rect x="670.2" y="993.3" width="304.0" height="25.5" fill="#0a0f3c"/>
<rect x="974.2" y="993.3" width="80.1" height="25.5" fill="#7bbcc3"/>
<text x="683.2" y="980.4" font-family="Liberation Sans, sans-serif" font-size="17.0" font-weight="700" fill="#fff" textLength="42.9" lengthAdjust="spacingAndGlyphs">79.3%</text>
<text x="682.4" y="1013.3" font-family="Liberation Sans, sans-serif" font-size="17.0" font-weight="700" fill="#fff" textLength="44.0" lengthAdjust="spacingAndGlyphs">79.9%</text>
<text x="1000.2" y="980.4" font-family="Liberation Sans, sans-serif" font-size="17.0" font-weight="700" fill="#fff" textLength="42.4" lengthAdjust="spacingAndGlyphs">20.7%</text>
<text x="1001.3" y="1013.3" font-family="Liberation Sans, sans-serif" font-size="17.0" font-weight="700" fill="#fff" textLength="39.2" lengthAdjust="spacingAndGlyphs">20.1%</text>
</g>
<g id="regional">
<text x="42.0" y="1068.7" font-family="Liberation Sans, sans-serif" font-size="24.4" font-weight="700" fill="#0a0b3d" textLength="485.5" lengthAdjust="spacingAndGlyphs">Travel &amp; Tourism: Regional Performance 2024</text>
<defs><clipPath id="mapclip"><rect x="100" y="1075" width="795" height="400"/></clipPath></defs>
<g clip-path="url(#mapclip)">
<path d="M119.8,1159.6L128.4,1156.4L132.7,1155.3L128.4,1152.5L122.4,1149.9L130.6,1145.4L137.0,1141.2L144.5,1138.5L154.2,1140.5L162.8,1142.4L177.9,1145.1L186.4,1147.3L190.8,1145.8L197.2,1143.9L202.6,1143.2L205.8,1141.6L210.1,1145.1L213.3,1143.5L216.6,1145.4L223.0,1145.8L229.5,1147.7L234.8,1150.3L235.9,1151.7L242.4,1151.7L247.7,1150.3L248.8,1153.5L253.1,1149.9L261.7,1151.7L269.2,1151.7L271.4,1149.2L274.6,1150.3L275.2,1153.5L277.8,1149.9L274.6,1146.6L274.0,1142.4L276.8,1136.1L281.1,1138.5L282.1,1144.7L285.4,1145.8L286.9,1149.5L291.2,1151.0L291.8,1147.7L295.0,1152.8L297.2,1148.1L298.2,1144.3L303.6,1144.7L306.2,1148.4L304.7,1151.0L305.8,1153.9L301.5,1157.1L296.1,1157.5L295.0,1159.9L292.9,1161.0L290.7,1164.4L286.4,1165.8L282.1,1169.5L280.0,1173.4L277.8,1178.3L277.4,1182.1L281.1,1182.7L282.1,1187.6L286.4,1187.0L291.8,1189.1L298.2,1192.7L304.1,1193.3L304.5,1199.5L306.2,1201.8L307.9,1204.3L310.5,1203.8L311.8,1200.9L311.1,1196.6L309.9,1194.2L313.7,1192.7L316.3,1189.1L316.3,1185.8L312.7,1182.1L314.4,1178.3L313.3,1175.7L314.2,1170.5L318.7,1171.1L323.0,1171.1L327.3,1174.1L330.5,1175.1L331.6,1179.9L331.6,1182.1L334.8,1183.6L339.1,1181.4L340.2,1179.2L342.3,1177.3L344.5,1181.4L347.7,1185.5L349.9,1190.6L353.1,1193.0L357.4,1196.0L360.6,1199.5L361.0,1201.2L359.1,1203.8L354.6,1205.2L352.0,1207.1L347.7,1207.1L342.3,1207.1L337.4,1208.2L334.8,1210.7L331.4,1213.5L328.8,1216.2L330.5,1216.2L333.7,1212.4L338.0,1210.5L342.3,1210.7L342.3,1213.5L339.1,1213.5L341.2,1216.2L342.3,1218.0L345.6,1219.1L348.8,1219.9L350.9,1216.2L352.0,1218.8L349.4,1221.0L344.5,1222.5L340.2,1225.4L338.7,1223.6L341.7,1220.7L339.1,1221.0L336.5,1222.3L332.6,1224.1L329.4,1226.2L328.8,1228.0L330.5,1230.0L327.3,1230.8L324.1,1231.6L321.9,1232.8L321.5,1235.6L319.8,1237.1L319.1,1239.3L317.6,1241.8L318.0,1244.2L318.7,1246.2L315.9,1247.6L313.3,1249.3L310.7,1251.0L307.3,1253.8L306.0,1256.6L306.2,1259.0L307.9,1262.7L309.0,1265.9L308.4,1269.3L306.9,1269.8L305.1,1267.3L303.2,1263.8L303.2,1260.8L301.0,1258.7L298.7,1259.0L296.5,1258.0L292.9,1257.8L289.6,1257.8L289.0,1260.6L285.8,1260.4L282.1,1259.4L278.9,1259.4L276.1,1261.1L272.5,1263.6L271.6,1267.7L270.7,1273.4L270.9,1276.8L272.0,1279.7L274.2,1283.0L276.3,1284.3L278.3,1285.2L282.1,1284.3L285.4,1283.4L286.4,1280.1L287.5,1278.8L291.4,1277.7L294.2,1278.1L292.9,1281.7L292.2,1285.0L291.2,1286.7L291.2,1289.4L290.1,1290.5L292.9,1290.5L296.1,1290.2L299.3,1290.5L301.9,1292.2L301.5,1295.5L301.0,1298.7L300.8,1300.9L302.6,1303.0L304.3,1305.2L306.9,1305.6L309.4,1304.1L311.6,1304.3L314.4,1305.8L314.8,1307.5L313.5,1309.0L312.4,1307.1L310.1,1305.2L308.4,1306.9L308.6,1308.6L306.9,1308.8L305.1,1307.3L302.6,1306.7L301.3,1305.8L298.9,1303.5L296.5,1302.6L296.5,1300.7L294.0,1297.4L292.2,1296.1L288.6,1295.5L284.7,1294.6L282.1,1293.1L278.9,1290.0L276.8,1289.6L273.5,1290.7L270.3,1289.8L266.2,1288.3L262.1,1286.1L258.5,1285.0L255.7,1282.8L254.0,1280.3L254.6,1277.7L252.7,1274.7L249.9,1271.1L247.1,1268.9L245.8,1266.1L243.2,1263.6L240.8,1261.8L238.7,1258.7L237.6,1255.7L234.4,1254.3L234.2,1256.6L235.9,1259.0L238.1,1262.0L239.8,1265.0L241.5,1267.7L243.0,1270.5L245.1,1272.7L245.6,1274.5L244.1,1274.1L241.3,1271.4L239.6,1268.9L239.3,1267.1L237.0,1265.9L234.2,1263.8L235.5,1262.2L233.8,1259.7L231.8,1257.6L230.1,1254.5L229.0,1252.2L226.4,1249.5L224.1,1248.3L221.7,1247.9L219.8,1244.7L218.7,1242.3L217.6,1239.8L215.5,1237.3L214.6,1235.1L213.5,1233.3L214.0,1229.8L213.5,1226.7L214.4,1222.8L214.4,1218.3L213.1,1214.8L212.9,1212.4L216.6,1212.9L217.6,1215.1L217.8,1212.1L216.1,1209.9L212.7,1208.0L207.9,1205.7L206.2,1202.3L203.7,1199.5L200.9,1195.1L198.3,1191.8L194.0,1186.7L189.7,1183.0L185.4,1182.1L180.0,1178.9L172.5,1178.3L166.0,1175.7L161.7,1178.3L155.3,1180.8L158.5,1174.4L152.1,1179.9L148.8,1184.5L142.4,1188.5L135.9,1192.1L130.6,1194.2L126.7,1194.8L132.7,1191.2L137.0,1189.1L141.3,1185.2L143.0,1182.1L139.2,1183.0L132.7,1182.4L132.3,1178.3L126.2,1176.7L124.1,1171.8L127.3,1168.5L134.9,1166.8L134.9,1163.4L129.5,1163.4L125.4,1163.4L119.8,1159.6Z M341.2,1172.8L338.0,1171.8L333.7,1169.8L327.3,1166.5L324.1,1164.1L319.8,1163.7L314.4,1164.1L312.9,1161.7L318.7,1160.6L321.9,1159.9L323.0,1156.4L325.1,1152.8L323.0,1149.9L317.6,1147.3L312.2,1143.5L309.0,1144.7L304.7,1143.5L298.2,1143.5L290.7,1141.6L287.5,1135.8L288.6,1128.9L296.1,1128.4L297.2,1132.5L299.3,1129.3L306.9,1128.9L313.3,1130.9L307.9,1134.6L313.3,1132.5L319.8,1134.6L325.1,1136.9L328.4,1139.7L333.7,1142.4L337.0,1146.6L333.7,1149.2L339.1,1151.0L343.4,1152.8L348.8,1155.7L346.6,1159.2L344.5,1161.7L340.2,1158.9L335.9,1159.9L341.2,1165.1L341.7,1168.5L338.0,1167.8L334.8,1165.8L339.1,1169.8L341.2,1172.8Z M227.3,1139.7L226.2,1135.0L230.5,1131.7L235.9,1130.5L240.2,1132.5L244.5,1131.7L248.8,1130.9L253.1,1129.7L255.2,1133.8L261.7,1137.7L262.8,1143.5L259.6,1147.3L256.3,1149.2L251.0,1147.7L244.5,1148.8L237.0,1149.2L231.6,1147.3L229.5,1143.5L235.9,1142.4L231.6,1140.8L227.3,1139.7Z M211.2,1135.8L216.6,1139.3L221.9,1138.1L227.3,1134.6L231.6,1131.7L232.7,1129.3L228.4,1126.8L223.0,1126.4L218.7,1125.9L213.3,1128.9L211.2,1135.8Z M229.5,1122.5L235.9,1124.3L240.2,1125.5L246.7,1123.8L253.1,1123.4L254.2,1119.1L246.7,1116.0L240.2,1118.2L235.9,1116.9L229.5,1120.0Z M261.7,1135.8L266.0,1136.5L272.5,1136.9L273.5,1131.7L270.3,1127.6L264.9,1127.6L261.7,1129.7Z M275.7,1135.8L281.1,1135.0L285.4,1132.9L287.1,1128.0L282.1,1127.2L276.8,1127.6L274.6,1131.7Z M267.1,1147.3L271.4,1149.2L275.0,1148.8L275.7,1145.1L270.3,1143.5Z M294.0,1165.1L297.2,1167.8L302.6,1166.5L306.9,1166.8L308.4,1163.4L304.7,1161.0L300.4,1158.9L295.0,1159.9Z M283.2,1125.1L291.8,1125.5L300.4,1125.9L309.0,1125.5L310.1,1121.3L304.7,1119.5L296.1,1120.8L289.6,1120.8L287.5,1116.4L281.1,1116.0L274.6,1116.0L277.8,1120.4L283.2,1121.3Z M263.9,1123.4L271.4,1121.3L270.3,1116.4L259.6,1117.8L256.3,1121.3Z M309.0,1118.2L300.4,1117.3L289.6,1117.8L291.8,1113.8L298.2,1112.4L291.8,1110.1L298.2,1107.8L294.0,1102.6L296.1,1098.2L287.5,1095.7L285.4,1091.7L294.0,1089.6L304.7,1086.5L319.8,1084.9L334.8,1085.9L347.7,1088.1L348.8,1091.7L341.2,1094.7L335.9,1098.2L328.4,1102.1L319.8,1105.9L317.6,1109.2L314.4,1112.4L309.0,1118.2Z M274.6,1098.2L283.2,1094.7L292.9,1098.2L291.8,1107.3L285.4,1108.7L281.1,1107.3L275.7,1103.1Z M217.6,1119.1L225.2,1120.4L230.5,1117.8L231.6,1113.8L225.2,1112.9L218.7,1115.6Z M255.2,1110.1L261.7,1111.5L267.1,1110.1L264.9,1105.5L259.6,1103.6L254.2,1105.5Z M270.3,1110.1L276.8,1111.0L280.0,1107.8L273.5,1105.5Z M240.2,1112.4L245.6,1111.5L243.4,1107.8L237.0,1108.7Z M235.9,1108.7L242.4,1108.7L244.5,1105.5L238.1,1105.5Z M353.5,1214.5L357.4,1214.5L361.7,1216.4L364.5,1216.7L367.1,1217.2L367.7,1214.5L366.0,1212.1L364.9,1209.6L361.7,1208.2L361.2,1204.3L358.9,1205.2L356.7,1208.8L354.6,1212.1Z M342.3,1208.2L347.7,1210.5L348.1,1209.6L344.5,1208.2Z M342.8,1217.0L347.7,1217.5L346.6,1218.8L343.8,1218.3Z M205.2,1205.7L210.1,1206.8L213.3,1209.4L215.7,1212.4L212.2,1211.3L207.9,1208.5Z M195.1,1196.3L197.6,1196.6L198.9,1201.5L196.1,1199.5Z M298.5,1277.0L301.5,1274.7L304.7,1274.1L308.4,1274.3L312.2,1275.9L315.5,1277.4L318.7,1279.4L321.5,1280.8L318.7,1281.4L314.2,1281.4L313.3,1279.9L310.1,1277.7L305.8,1276.3L302.6,1276.8L300.4,1277.2Z M321.0,1284.8L324.1,1281.4L327.3,1281.4L330.5,1281.9L333.9,1284.1L331.6,1285.0L328.4,1285.2L325.1,1285.2Z M312.7,1284.8L315.5,1284.5L317.2,1285.6L314.4,1286.1Z M336.5,1284.5L340.0,1284.8L339.5,1285.6L336.5,1285.6Z M312.9,1266.4L315.0,1266.1L314.6,1267.3Z M312.9,1270.0L314.2,1270.2L313.7,1272.0Z M348.1,1301.3L350.1,1301.3L349.9,1302.8L348.1,1302.8Z M314.8,1307.5L314.4,1305.8L315.9,1305.8L317.6,1304.3L318.7,1301.7L320.2,1300.7L323.0,1300.2L325.8,1298.7L326.8,1297.8L327.9,1298.9L326.6,1300.4L327.5,1301.3L330.1,1300.0L330.5,1298.3L331.4,1299.8L333.7,1301.3L337.0,1301.7L339.1,1301.7L342.3,1302.6L345.6,1301.5L347.7,1301.5L348.8,1303.5L350.3,1304.5L352.0,1306.2L354.1,1307.7L355.2,1309.5L357.4,1311.0L358.4,1311.6L362.8,1311.8L364.9,1312.2L368.1,1313.7L370.3,1315.2L371.4,1318.0L373.5,1320.6L373.5,1323.1L371.4,1324.4L373.5,1325.0L376.1,1324.8L377.2,1326.5L378.9,1325.9L382.1,1326.5L384.7,1328.0L385.8,1329.7L388.1,1329.5L391.8,1330.6L395.0,1330.6L398.2,1332.3L401.0,1334.4L404.7,1335.3L405.8,1337.6L406.2,1339.8L406.0,1342.1L404.5,1345.1L402.5,1347.1L400.4,1349.7L398.2,1352.3L397.1,1354.9L397.1,1357.7L396.7,1362.1L395.6,1364.5L395.4,1366.9L393.5,1369.8L392.9,1372.0L390.7,1374.1L388.1,1374.3L385.1,1375.0L383.2,1376.1L381.5,1376.5L378.9,1378.6L376.9,1380.2L376.5,1382.9L376.5,1385.2L375.2,1387.5L373.5,1390.3L371.8,1393.3L369.0,1395.5L367.7,1397.8L366.0,1399.5L364.3,1401.2L362.8,1402.1L360.2,1401.9L357.8,1400.9L355.7,1399.7L355.2,1400.9L357.4,1402.6L358.0,1404.6L358.9,1405.8L357.4,1409.5L354.1,1411.2L349.9,1411.9L347.3,1411.7L347.1,1415.0L346.0,1417.0L342.3,1416.7L341.0,1418.2L342.3,1420.3L344.3,1421.1L341.7,1422.1L340.6,1424.7L340.0,1427.3L337.0,1428.9L335.7,1430.8L338.0,1432.6L339.5,1435.1L337.0,1437.5L335.4,1439.7L333.1,1441.7L332.6,1443.6L333.9,1447.3L331.6,1447.6L333.7,1449.0L334.8,1451.1L337.0,1452.8L340.6,1454.3L338.0,1455.5L336.3,1457.9L332.6,1456.7L329.4,1454.9L326.2,1452.8L323.0,1449.9L320.4,1447.3L319.3,1443.6L318.7,1439.4L318.7,1435.3L318.5,1432.1L320.4,1429.4L321.9,1426.0L321.3,1422.9L322.3,1419.0L322.8,1414.5L323.4,1410.7L322.8,1407.7L323.8,1406.3L324.9,1403.4L326.2,1400.2L326.8,1397.4L327.3,1393.8L327.5,1390.3L327.5,1387.5L328.6,1383.8L329.2,1379.9L329.6,1375.6L330.1,1370.9L330.1,1367.1L329.6,1364.0L327.5,1362.3L324.5,1360.3L321.5,1358.6L319.1,1357.3L317.0,1354.2L315.9,1351.8L315.0,1350.1L313.7,1347.5L312.7,1345.3L311.6,1342.6L309.9,1340.0L308.4,1338.3L306.6,1337.2L306.4,1335.5L306.2,1334.4L307.3,1332.7L308.4,1331.6L309.2,1329.9L308.1,1329.9L307.1,1329.1L307.5,1326.5L308.1,1325.3L308.8,1323.8L309.0,1322.5L310.5,1322.1L311.6,1321.0L312.2,1319.3L313.9,1318.9L315.0,1316.5L314.6,1314.8L314.6,1312.5L314.6,1310.1L313.5,1309.0Z M349.9,1445.3L353.7,1444.5L356.7,1445.3L354.6,1447.0L350.9,1447.0Z M284.3,1325.3L285.6,1324.8L285.8,1326.5L284.5,1326.5Z M468.3,1244.7L469.6,1244.5L472.4,1246.2L474.6,1245.9L476.7,1246.4L478.9,1245.0L481.4,1244.2L484.2,1243.0L487.4,1242.3L490.7,1242.0L492.8,1242.3L496.1,1241.8L499.3,1241.8L502.1,1241.1L503.1,1242.3L504.6,1241.5L503.6,1243.7L504.2,1245.7L502.9,1248.3L502.5,1249.5L504.2,1250.0L505.7,1251.0L507.9,1251.9L509.4,1251.7L511.7,1252.4L513.7,1252.9L514.8,1255.0L517.5,1256.2L519.7,1257.1L521.9,1257.8L523.6,1256.9L524.0,1255.2L524.0,1253.6L525.7,1252.2L527.9,1251.7L530.5,1252.2L532.6,1253.8L535.2,1254.8L538.0,1255.0L540.1,1255.7L543.4,1256.4L545.5,1255.5L547.6,1254.8L549.8,1255.2L550.7,1255.5L553.0,1255.9L554.7,1255.5L556.0,1259.7L555.0,1262.5L554.5,1263.6L553.2,1262.5L551.5,1259.7L550.9,1258.5L551.1,1259.9L551.7,1262.0L553.2,1264.3L554.1,1266.6L555.4,1269.1L556.7,1271.6L557.3,1273.4L559.0,1275.4L560.3,1276.8L560.8,1279.0L561.0,1281.2L561.2,1282.1L562.3,1284.3L563.8,1285.6L564.9,1288.3L565.9,1290.9L567.6,1292.2L569.6,1293.5L571.3,1295.5L572.8,1296.8L574.1,1297.4L573.9,1299.6L575.6,1301.9L577.8,1301.9L580.3,1301.3L583.1,1300.7L586.4,1300.2L589.1,1299.6L591.3,1299.1L591.3,1302.2L590.2,1304.1L589.1,1306.2L587.6,1308.4L586.8,1310.5L585.3,1313.1L583.8,1315.2L581.0,1318.0L578.6,1320.1L576.2,1322.1L574.1,1323.8L572.4,1325.3L570.9,1327.2L569.8,1328.7L568.3,1329.7L567.4,1330.8L566.4,1332.9L565.3,1335.1L564.4,1337.2L565.7,1339.1L565.7,1341.5L566.1,1344.3L567.0,1346.2L568.3,1347.3L568.1,1350.1L568.3,1353.3L568.7,1355.7L568.3,1358.3L566.6,1359.9L564.4,1361.6L561.6,1362.7L560.3,1363.6L558.4,1365.4L556.0,1367.1L555.6,1368.9L556.7,1370.9L557.3,1373.2L557.3,1376.1L556.5,1378.1L553.0,1379.2L551.5,1380.2L551.5,1382.2L551.7,1384.5L550.9,1387.3L548.9,1388.7L547.6,1390.1L546.1,1392.6L544.0,1395.0L541.2,1397.4L538.6,1399.0L536.3,1399.7L533.7,1400.0L530.5,1400.0L528.3,1400.2L525.7,1400.9L524.0,1401.7L522.3,1400.9L520.6,1400.2L520.3,1397.4L520.1,1395.0L519.3,1392.6L518.0,1390.3L517.1,1388.0L516.3,1387.0L514.5,1384.5L513.5,1382.4L512.8,1379.5L512.2,1376.5L512.0,1373.8L510.7,1371.1L509.4,1368.7L508.1,1365.8L506.6,1363.2L506.2,1361.4L506.2,1358.8L507.0,1356.4L507.9,1353.6L509.6,1351.4L510.5,1348.6L510.5,1346.2L509.4,1343.4L508.7,1341.1L507.4,1338.3L507.2,1336.8L506.8,1335.1L506.2,1334.0L504.6,1332.7L502.5,1330.4L501.0,1328.7L500.1,1327.0L499.9,1325.9L501.2,1324.6L501.4,1323.3L501.6,1321.8L502.1,1319.7L502.1,1317.6L501.6,1316.1L500.1,1314.8L499.1,1314.6L497.1,1315.0L495.4,1315.2L493.7,1315.2L492.4,1313.3L491.1,1311.4L488.3,1310.7L485.9,1311.0L483.8,1311.6L482.1,1312.0L479.9,1312.9L478.2,1313.7L476.5,1314.4L474.6,1313.5L472.4,1313.3L470.2,1313.5L468.1,1314.2L465.9,1314.8L464.4,1315.0L462.1,1313.7L459.9,1312.2L457.8,1310.7L456.3,1309.7L454.1,1308.4L452.8,1306.7L452.4,1305.2L451.3,1303.9L449.8,1302.4L448.8,1300.9L447.0,1299.4L445.5,1298.1L444.9,1296.5L445.1,1294.8L444.0,1293.3L443.4,1292.9L444.4,1291.8L445.5,1290.0L445.7,1287.8L446.4,1285.4L446.0,1282.8L445.1,1280.5L444.4,1279.2L444.9,1277.2L446.0,1275.4L446.4,1272.9L447.5,1271.1L449.0,1268.9L449.8,1267.3L451.5,1265.4L453.1,1263.6L455.2,1262.9L456.9,1261.5L458.9,1260.1L460.1,1258.0L459.9,1255.5L461.0,1253.1L462.7,1250.7L464.7,1250.0L466.4,1248.8L467.5,1246.7L468.3,1244.7Z M587.0,1350.1L588.5,1353.3L589.6,1357.7L588.1,1359.2L587.6,1362.1L586.4,1366.5L584.8,1370.9L583.6,1375.4L582.3,1378.6L580.3,1379.5L578.2,1380.2L576.0,1378.8L574.7,1375.4L574.1,1372.0L575.2,1369.4L576.5,1367.1L575.6,1363.6L575.6,1361.4L576.7,1359.2L579.9,1358.3L581.6,1357.3L583.8,1355.7L584.8,1353.3L586.1,1351.2Z M444.7,1262.2L446.4,1261.8L445.7,1263.2Z M450.3,1261.5L451.3,1261.3L450.9,1262.9Z M595.6,1297.2L598.2,1297.4L597.1,1298.1Z M565.3,1336.6L566.1,1337.2L565.7,1338.3Z M573.9,1348.8L574.5,1349.9L573.9,1349.9Z M599.7,1369.6L601.0,1369.8L600.3,1370.7Z M604.2,1367.6L605.3,1368.0L604.6,1368.7Z M469.4,1244.0L467.5,1243.0L465.1,1241.3L461.9,1241.8L462.1,1238.8L460.6,1237.6L461.6,1235.1L462.3,1231.3L461.9,1228.8L461.0,1226.7L462.9,1225.7L465.9,1224.9L469.2,1225.2L472.8,1225.4L477.1,1225.7L478.2,1222.8L478.4,1219.4L476.5,1216.7L475.0,1214.8L471.5,1214.0L470.9,1212.4L474.6,1211.3L477.6,1211.6L477.1,1208.8L478.4,1209.6L481.4,1209.4L484.2,1207.7L484.7,1205.4L487.4,1204.3L489.6,1202.3L491.3,1199.5L493.9,1198.3L496.5,1197.7L499.3,1197.7L499.9,1195.7L499.5,1193.6L498.4,1191.2L498.6,1187.6L501.4,1187.0L503.8,1185.5L503.4,1188.8L504.2,1190.0L502.5,1192.1L501.6,1193.6L502.5,1195.1L504.6,1196.6L507.2,1195.7L510.0,1195.4L511.7,1196.9L515.4,1195.7L518.6,1194.5L521.2,1195.4L523.6,1195.4L525.7,1193.0L526.4,1190.6L526.1,1187.6L527.9,1185.8L529.6,1185.5L531.5,1187.6L533.2,1186.7L533.5,1183.9L531.7,1182.7L531.5,1180.8L534.3,1179.9L538.0,1179.5L541.2,1179.5L544.4,1178.6L545.9,1178.3L543.4,1176.7L540.1,1176.7L536.9,1177.0L534.8,1177.6L531.5,1178.6L529.4,1177.6L527.0,1176.0L527.0,1173.1L526.6,1170.1L527.4,1167.8L530.0,1165.8L533.2,1163.1L535.4,1161.7L535.4,1159.6L533.0,1158.9L529.4,1158.9L527.2,1161.0L526.6,1163.7L524.6,1166.1L521.9,1167.8L519.3,1170.1L518.2,1173.1L518.0,1176.0L520.3,1177.6L521.4,1179.2L519.7,1181.4L517.5,1182.7L516.9,1185.2L516.5,1188.2L515.4,1190.0L513.2,1190.3L511.7,1192.1L508.9,1192.4L508.5,1190.0L507.9,1187.9L506.6,1185.5L505.3,1182.1L504.2,1180.5L503.8,1178.6L502.5,1181.1L500.8,1182.4L498.2,1184.2L496.1,1184.5L493.5,1182.7L492.4,1180.2L492.0,1177.0L491.8,1174.1L492.2,1171.5L494.5,1169.5L497.1,1168.1L499.7,1166.5L502.5,1164.8L504.6,1162.0L506.8,1159.6L508.5,1157.1L510.7,1154.6L512.8,1151.7L515.0,1149.5L517.5,1147.3L520.8,1145.1L524.0,1143.2L527.2,1142.0L530.5,1140.1L533.7,1139.3L536.5,1138.9L540.1,1139.7L543.4,1140.5L547.6,1142.0L545.1,1144.3L548.7,1145.1L552.0,1145.8L556.2,1146.6L560.5,1148.1L564.9,1150.3L568.1,1152.1L569.6,1154.6L568.5,1156.8L564.9,1157.8L560.5,1157.1L556.2,1156.1L552.0,1155.3L550.9,1154.3L553.0,1156.8L555.4,1159.2L555.8,1162.4L557.3,1164.1L560.5,1165.1L562.7,1165.1L561.2,1163.1L560.5,1161.3L563.8,1162.4L567.0,1163.1L568.1,1161.7L566.6,1159.6L569.1,1157.8L572.4,1156.8L575.6,1157.5L576.2,1154.6L575.6,1151.0L574.3,1148.8L577.8,1149.2L580.5,1150.6L581.2,1152.1L578.8,1153.5L581.0,1155.0L583.8,1152.5L586.4,1151.4L590.6,1149.5L595.0,1148.4L597.1,1149.9L600.3,1149.2L604.6,1148.4L607.9,1148.1L611.1,1146.2L610.6,1144.3L614.3,1144.7L619.7,1146.2L624.0,1146.6L625.0,1144.7L624.6,1141.2L625.7,1138.1L628.3,1135.0L630.4,1131.7L633.6,1130.5L636.9,1132.5L637.5,1136.5L636.9,1141.6L637.3,1146.2L636.4,1150.3L634.7,1153.9L632.6,1156.1L635.8,1157.1L639.0,1155.0L640.1,1151.0L639.0,1147.3L640.7,1142.8L639.2,1138.9L641.8,1134.2L644.4,1135.0L647.6,1134.2L650.9,1135.4L654.3,1132.9L656.2,1136.5L659.5,1139.7L660.5,1136.5L657.3,1132.5L654.1,1129.7L659.5,1128.9L665.9,1127.6L668.0,1123.4L673.4,1121.3L678.8,1120.0L685.2,1119.1L691.7,1117.3L697.1,1116.4L701.4,1112.9L705.2,1111.5L708.9,1113.3L712.1,1115.1L719.6,1116.0L725.0,1119.1L724.4,1123.4L719.6,1125.5L716.4,1127.6L711.0,1130.5L710.0,1128.9L714.3,1129.7L718.6,1127.6L722.9,1127.6L725.0,1129.7L730.4,1128.9L735.8,1129.7L739.0,1131.7L744.4,1131.7L747.6,1128.9L753.0,1129.3L757.3,1130.9L759.4,1134.6L758.3,1138.9L762.6,1140.5L765.9,1137.7L769.1,1138.1L773.4,1137.7L777.7,1137.7L781.6,1134.6L784.1,1132.5L789.5,1132.9L794.9,1134.2L800.3,1135.0L803.5,1137.7L807.8,1139.7L813.2,1139.7L819.6,1139.7L823.9,1142.4L827.1,1145.1L831.5,1144.7L836.8,1145.1L842.2,1143.5L846.5,1145.1L847.6,1147.7L849.7,1143.9L855.1,1144.3L860.5,1144.7L864.8,1145.8L868.0,1147.7L873.4,1149.5L878.8,1152.8L883.0,1154.6L887.3,1156.4L890.1,1157.8L888.4,1159.6L885.8,1160.3L884.6,1163.7L880.9,1163.4L877.7,1162.0L875.5,1159.9L872.3,1158.2L869.1,1159.6L866.9,1161.7L863.7,1162.7L862.6,1164.4L865.4,1166.8L866.5,1170.1L862.6,1170.1L857.2,1172.5L851.9,1175.1L847.6,1178.3L843.3,1176.7L839.0,1177.3L835.8,1178.6L832.5,1179.9L831.5,1183.0L831.9,1185.2L830.8,1189.1L829.3,1193.0L826.1,1196.0L825.0,1198.9L822.2,1199.8L819.6,1202.9L817.9,1205.2L817.0,1200.9L816.4,1196.6L815.5,1192.1L816.4,1187.6L818.5,1185.2L821.8,1182.4L825.0,1178.3L828.9,1176.4L832.5,1172.8L834.2,1170.1L831.5,1170.8L828.2,1173.1L825.0,1172.5L820.7,1172.5L817.5,1173.4L814.2,1176.7L813.2,1179.9L808.9,1181.4L805.6,1179.9L801.3,1179.5L797.0,1180.5L792.8,1180.5L788.9,1180.5L785.2,1182.7L782.0,1185.2L778.8,1188.2L776.2,1191.5L773.0,1194.2L776.0,1196.0L778.8,1197.1L782.0,1196.6L784.6,1198.9L784.1,1202.3L783.3,1205.2L783.1,1208.0L782.6,1211.3L780.5,1214.8L778.3,1217.8L775.5,1220.7L773.0,1223.6L769.1,1226.7L765.9,1226.2L763.7,1227.0L762.0,1228.5L760.1,1230.6L759.9,1232.3L757.3,1234.3L755.1,1235.6L755.1,1236.6L756.8,1238.1L758.8,1241.1L759.4,1244.2L758.8,1246.2L756.6,1246.9L754.7,1247.6L752.8,1248.1L752.8,1245.4L753.2,1242.8L753.0,1241.3L752.3,1239.8L750.2,1239.8L749.8,1237.8L750.4,1235.9L748.7,1234.9L746.1,1235.1L743.7,1236.6L741.8,1237.3L742.4,1235.4L743.7,1233.3L742.2,1232.1L740.1,1233.6L738.1,1234.6L735.8,1236.6L734.3,1237.1L734.7,1238.8L736.9,1240.1L737.9,1241.3L740.1,1240.1L742.2,1240.6L744.6,1240.8L744.2,1242.0L741.1,1243.0L739.6,1244.0L737.9,1245.9L737.5,1247.4L739.4,1248.6L740.7,1251.4L742.7,1253.8L743.1,1256.2L741.1,1257.1L741.8,1258.0L743.3,1258.7L742.7,1261.5L741.1,1263.4L739.6,1265.4L738.4,1267.7L736.9,1269.6L735.1,1271.1L733.2,1272.9L731.5,1274.3L728.9,1275.2L726.5,1276.1L724.4,1276.5L721.8,1277.4L719.6,1278.1L718.1,1280.3L717.1,1278.1L714.9,1277.7L713.2,1277.7L711.0,1279.0L710.2,1280.5L708.7,1282.8L708.5,1284.5L710.0,1286.5L711.7,1288.3L713.8,1290.0L715.4,1292.2L716.0,1295.5L716.0,1298.7L714.9,1300.2L712.1,1301.9L710.6,1302.4L710.2,1304.1L707.6,1305.4L706.3,1306.0L706.8,1303.5L705.9,1302.4L703.7,1301.7L702.7,1300.2L701.4,1298.5L699.2,1297.4L697.9,1295.9L696.9,1295.5L696.0,1296.5L696.0,1298.7L695.1,1300.9L694.3,1303.0L694.5,1304.7L696.0,1306.0L696.9,1308.4L698.1,1309.7L700.3,1311.0L701.8,1312.2L703.3,1314.2L703.3,1316.3L703.7,1318.6L705.0,1321.2L703.7,1321.6L702.0,1320.4L699.9,1319.1L698.8,1318.2L697.5,1316.1L696.9,1313.7L696.4,1311.2L695.1,1309.9L693.4,1307.7L692.3,1306.9L692.6,1304.5L693.2,1301.9L693.2,1299.4L692.8,1297.0L692.1,1294.6L691.3,1292.2L690.8,1289.1L689.5,1288.0L688.0,1289.1L686.1,1290.5L684.4,1290.2L683.7,1288.9L684.2,1286.1L683.5,1283.9L682.2,1281.7L680.7,1280.8L679.2,1278.5L678.4,1276.1L676.2,1275.9L675.1,1277.0L673.0,1277.2L670.6,1277.7L668.5,1278.1L667.6,1279.9L666.3,1281.4L664.2,1282.5L662.2,1284.3L660.3,1286.3L657.9,1288.5L655.8,1290.0L653.6,1291.1L653.2,1293.7L653.6,1296.1L653.0,1298.7L652.6,1301.1L652.6,1302.4L651.3,1304.1L649.6,1305.2L648.7,1306.5L647.6,1307.1L646.5,1306.5L645.5,1304.7L644.8,1302.6L643.8,1300.0L642.2,1297.6L641.4,1295.0L640.5,1292.6L639.5,1290.5L638.6,1287.8L637.7,1284.5L637.5,1282.3L637.3,1279.9L637.5,1277.9L636.9,1276.3L636.2,1278.5L634.1,1279.4L632.1,1279.2L630.0,1277.0L629.4,1275.9L631.5,1275.2L632.1,1274.5L629.8,1274.7L628.3,1273.8L627.6,1272.7L625.9,1271.8L625.0,1270.2L624.0,1269.1L621.4,1269.3L618.6,1269.3L615.4,1269.6L612.8,1269.8L610.0,1269.3L607.4,1268.9L604.6,1268.4L603.5,1266.4L602.0,1265.0L599.9,1266.1L597.7,1266.4L595.4,1265.4L593.4,1264.1L591.5,1263.4L590.2,1261.1L589.4,1259.0L587.4,1258.3L585.9,1257.8L584.6,1259.0L584.4,1260.8L585.5,1262.5L586.4,1264.3L588.1,1265.9L588.9,1267.3L588.7,1268.9L590.0,1270.0L590.6,1268.2L591.3,1267.5L591.9,1269.3L591.5,1270.9L592.4,1272.0L595.0,1272.0L597.5,1271.8L598.8,1270.2L600.5,1268.9L601.6,1267.5L602.3,1267.1L602.3,1270.0L603.1,1271.8L605.3,1272.7L607.2,1273.2L609.6,1275.6L608.5,1277.9L607.2,1280.1L605.3,1281.0L605.3,1283.4L603.1,1285.0L600.3,1286.3L598.2,1287.6L595.6,1288.5L593.2,1290.0L590.6,1291.5L588.1,1292.6L585.7,1294.2L583.1,1295.2L579.9,1295.9L577.8,1297.0L575.6,1297.4L574.5,1297.2L573.9,1295.5L573.2,1292.6L573.0,1290.7L572.8,1288.9L571.9,1286.7L570.2,1284.5L568.7,1282.1L566.6,1280.1L565.3,1277.9L564.6,1275.4L563.1,1272.7L561.6,1270.9L560.5,1268.9L559.3,1266.8L557.8,1264.5L556.2,1262.9L556.0,1259.7L554.7,1255.5L555.8,1253.6L556.2,1251.9L557.3,1249.3L558.2,1247.1L558.0,1245.2L558.8,1242.8L557.3,1242.8L555.4,1242.3L553.5,1243.7L551.5,1244.0L549.4,1242.8L547.0,1242.0L545.9,1243.5L544.0,1243.7L541.8,1242.5L539.9,1241.8L539.5,1239.8L538.0,1238.3L539.0,1237.3L537.8,1235.9L537.3,1234.3L539.7,1233.3L542.9,1233.3L544.0,1232.3L543.6,1231.3L546.1,1231.3L548.7,1231.1L551.5,1229.8L554.1,1229.3L556.7,1229.3L559.0,1231.1L561.6,1231.8L564.4,1231.8L567.0,1231.8L570.2,1230.6L570.7,1228.8L569.1,1226.7L566.4,1225.2L563.8,1223.1L561.6,1222.0L560.1,1220.7L562.3,1219.4L563.1,1217.5L565.3,1215.9L562.7,1215.9L560.1,1216.7L556.9,1218.0L556.2,1219.6L559.3,1220.4L557.1,1221.5L554.1,1223.1L552.8,1222.5L553.0,1221.0L550.9,1220.4L553.0,1218.8L550.4,1218.3L548.3,1217.0L547.0,1217.8L545.5,1219.4L544.9,1221.0L542.9,1222.5L542.5,1225.2L541.0,1226.2L540.3,1228.0L541.2,1229.5L543.4,1231.1L541.6,1231.8L539.7,1231.8L538.6,1232.8L537.3,1233.6L536.9,1232.6L534.8,1232.1L533.0,1232.3L532.0,1232.8L532.6,1234.1L531.1,1233.8L530.0,1233.3L529.8,1234.9L530.9,1236.4L530.2,1237.1L532.6,1238.8L532.6,1240.1L531.5,1239.3L530.5,1240.6L530.9,1242.8L529.4,1243.0L527.7,1242.3L526.8,1240.1L527.4,1238.6L526.1,1237.8L525.5,1236.6L524.2,1235.1L522.7,1233.3L522.9,1231.1L522.5,1229.5L520.8,1228.0L518.6,1226.7L516.3,1225.4L514.3,1224.4L513.5,1223.1L512.2,1221.0L510.7,1221.8L510.5,1219.9L508.7,1219.9L507.4,1220.7L507.4,1222.8L508.5,1224.4L510.2,1225.4L511.1,1227.5L512.8,1229.0L515.6,1229.5L515.4,1230.8L517.5,1231.8L519.7,1232.8L520.8,1234.1L520.3,1234.9L519.3,1233.6L517.5,1233.1L516.7,1234.9L517.8,1236.6L516.7,1237.8L515.6,1239.6L514.5,1239.3L515.2,1237.6L515.6,1236.4L514.8,1234.3L513.2,1233.6L512.0,1232.6L510.7,1231.3L508.5,1230.8L507.2,1229.8L505.9,1228.5L504.6,1227.7L503.6,1226.7L503.1,1224.9L502.1,1223.9L500.1,1223.1L498.6,1224.1L497.1,1224.6L495.2,1226.2L492.6,1225.9L490.7,1225.7L489.2,1225.7L487.7,1226.7L487.9,1228.5L487.4,1229.8L485.7,1230.8L483.1,1231.8L482.3,1233.1L480.6,1235.1L480.4,1236.4L481.4,1237.3L479.9,1238.6L479.3,1240.1L477.3,1241.1L476.3,1242.5L473.5,1242.5L471.3,1242.8L469.4,1244.0Z M468.7,1207.7L471.3,1207.1L473.7,1206.6L475.6,1206.3L478.4,1206.0L481.6,1205.7L484.0,1204.6L482.7,1203.8L483.6,1202.6L484.7,1200.6L483.8,1199.8L481.6,1199.8L481.4,1198.0L480.4,1196.6L478.4,1194.8L477.8,1192.7L476.5,1190.9L474.1,1190.6L475.6,1189.1L476.7,1186.7L476.9,1185.5L473.9,1185.5L472.2,1186.1L474.3,1182.7L470.2,1182.7L469.6,1184.5L468.5,1186.4L469.0,1188.5L467.7,1189.1L469.0,1191.2L469.0,1192.7L470.7,1192.1L470.2,1194.2L472.0,1194.2L473.7,1193.9L473.9,1196.0L474.8,1196.9L474.6,1198.3L471.8,1198.3L471.1,1200.0L472.2,1201.2L470.7,1202.3L469.8,1202.9L472.0,1203.5L474.1,1204.0L474.6,1204.6L472.0,1204.6L470.7,1206.0Z M459.5,1203.5L462.7,1203.5L465.5,1202.0L467.5,1201.8L468.1,1198.6L467.7,1196.6L469.2,1195.4L468.5,1194.2L467.7,1193.0L464.9,1192.7L463.2,1194.5L462.3,1195.7L459.5,1196.0L459.9,1198.0L461.0,1199.2L459.9,1200.9L458.9,1202.0Z M428.8,1159.6L430.5,1157.5L432.6,1156.8L434.8,1159.6L437.4,1158.9L440.1,1157.8L442.3,1157.5L445.5,1156.4L447.7,1157.5L449.4,1158.9L451.8,1161.3L449.8,1163.7L447.7,1164.4L444.4,1166.1L442.3,1167.1L439.1,1166.8L436.9,1166.1L434.8,1165.8L432.2,1165.8L433.7,1164.1L433.1,1162.4L429.4,1162.0L432.6,1161.0L433.3,1159.9Z M465.3,1171.1L467.0,1170.8L466.4,1173.1Z M477.8,1176.4L478.9,1177.3L478.0,1178.6Z M504.2,1104.0L505.3,1107.8L510.0,1110.6L511.1,1113.3L514.3,1115.6L517.1,1116.4L518.2,1113.8L520.8,1112.0L521.4,1108.7L527.2,1107.3L521.9,1105.0L519.7,1102.6L516.5,1101.2L511.1,1101.6L506.8,1101.6Z M519.7,1099.7L524.0,1098.2L530.5,1098.2L539.0,1100.2L536.9,1103.1L530.5,1104.0L524.0,1103.1Z M526.1,1109.2L531.5,1109.2L533.7,1111.5L530.0,1113.3L526.6,1112.0Z M577.8,1097.7L584.2,1096.7L588.5,1098.2L583.1,1099.7Z M592.8,1096.7L599.2,1094.7L605.7,1096.2L603.5,1098.7L597.1,1099.2Z M606.8,1092.7L612.1,1092.2L617.5,1094.2L620.8,1096.7L614.3,1098.2L608.9,1097.2Z M600.3,1099.7L604.6,1100.2L602.5,1101.2Z M593.9,1137.7L591.7,1135.8L594.5,1132.5L596.0,1129.7L598.2,1127.6L601.4,1123.8L605.7,1121.3L610.0,1119.1L615.4,1117.8L621.8,1115.6L627.2,1114.7L629.4,1116.0L627.8,1118.2L620.8,1120.8L614.3,1122.5L611.1,1123.8L607.9,1126.8L605.7,1129.7L603.5,1132.5L601.4,1135.8L603.1,1138.9L604.6,1140.8L601.4,1141.2L598.2,1140.8L595.6,1139.7Z M584.8,1145.8L587.4,1145.4L588.5,1147.3L585.9,1148.1Z M606.8,1142.8L610.0,1142.4L610.6,1144.3L607.9,1144.7Z M686.3,1105.5L683.1,1101.6L678.8,1099.2L681.0,1095.7L686.3,1094.7L691.7,1096.7L694.9,1099.7L698.1,1102.6L702.5,1104.5L705.7,1105.9L700.3,1108.7L694.9,1110.1L691.7,1106.9Z M696.0,1109.7L702.5,1111.5L707.8,1108.7L704.6,1105.9L698.1,1106.4Z M630.4,1129.7L634.7,1129.7L633.2,1131.7Z M776.6,1121.3L779.8,1118.7L786.3,1119.1L792.8,1121.3L790.6,1123.8L784.1,1124.3L779.8,1124.7Z M796.6,1122.1L801.3,1122.1L805.2,1123.0L801.3,1124.3L797.0,1123.8Z M782.0,1130.1L786.3,1128.0L789.5,1130.1L786.3,1130.9Z M865.2,1138.9L869.1,1137.7L873.4,1138.5L872.3,1140.1L865.8,1140.1Z M786.1,1218.8L789.1,1217.2L787.8,1214.8L788.7,1210.7L791.9,1211.3L789.1,1208.5L788.9,1203.8L789.3,1199.5L788.0,1195.4L786.7,1198.0L785.9,1202.3L786.5,1208.0L786.3,1212.1Z M782.0,1230.6L782.4,1228.5L781.6,1227.2L782.9,1225.9L785.2,1225.7L785.7,1220.4L788.0,1222.5L791.0,1224.1L793.4,1223.3L794.0,1225.9L791.0,1227.0L789.1,1229.3L785.9,1227.7L783.9,1228.5L784.1,1230.0Z M783.7,1230.8L785.2,1233.1L786.3,1235.6L785.2,1238.6L784.1,1241.1L783.5,1244.2L783.7,1245.0L781.8,1246.7L781.4,1245.4L779.8,1246.4L779.4,1247.6L777.7,1247.6L775.5,1247.6L775.1,1248.3L773.8,1250.3L771.9,1250.0L771.7,1248.3L769.1,1247.6L765.9,1248.6L762.6,1249.1L762.6,1247.9L765.9,1245.7L770.2,1245.2L773.0,1245.2L774.5,1242.5L776.2,1240.6L776.2,1242.3L778.8,1241.1L780.3,1239.3L782.0,1235.6L782.0,1232.8L782.6,1231.3Z M762.4,1249.3L764.2,1250.5L764.6,1251.9L763.7,1254.3L762.0,1255.9L760.9,1254.1L761.4,1252.2L759.9,1251.4L761.1,1250.0Z M765.7,1249.5L768.0,1248.6L770.4,1248.6L769.7,1250.3L767.4,1251.4L766.1,1251.9Z M742.2,1269.3L743.3,1270.9L742.0,1274.1L740.9,1276.8L739.4,1275.0L739.4,1272.7L741.1,1270.0Z M714.7,1282.8L717.1,1281.2L719.0,1281.0L719.6,1282.1L718.1,1284.5L716.4,1285.2L714.7,1284.3Z M740.3,1284.5L743.7,1284.5L744.2,1287.8L743.3,1289.6L742.4,1292.2L743.3,1294.2L745.9,1294.6L747.8,1297.0L746.7,1297.0L744.8,1295.9L742.2,1295.0L740.5,1294.4L740.3,1293.1L739.2,1292.2L738.8,1289.6L739.9,1288.9L739.9,1286.7Z M739.9,1295.5L741.8,1295.7L742.2,1297.6L741.1,1298.1Z M748.2,1297.6L750.4,1297.6L751.3,1300.4L749.8,1302.4L748.7,1300.9Z M743.3,1299.1L745.5,1299.6L745.7,1301.3L743.3,1301.9Z M745.2,1301.1L746.5,1301.3L746.1,1304.7L744.6,1304.1Z M733.0,1306.5L735.8,1304.1L737.9,1301.5L738.4,1300.2L737.3,1302.2L734.7,1305.2L733.2,1305.8Z M743.3,1309.5L743.7,1307.5L746.3,1306.0L748.7,1306.2L750.8,1303.5L752.5,1306.2L753.2,1308.8L752.3,1311.0L750.8,1312.2L750.4,1310.1L748.0,1311.2L747.6,1309.5L746.1,1308.4Z M715.4,1323.8L715.8,1321.2L716.9,1320.1L718.6,1320.8L720.1,1321.2L720.5,1318.9L722.9,1318.0L725.0,1316.7L726.7,1314.8L728.9,1313.1L730.8,1311.0L732.1,1309.5L733.8,1310.5L735.3,1312.0L737.3,1313.3L735.1,1315.0L733.8,1317.2L734.3,1319.5L736.4,1321.8L734.5,1322.7L733.6,1324.4L733.4,1326.3L731.7,1327.8L731.5,1330.2L730.8,1331.9L728.7,1332.9L727.2,1333.1L725.0,1331.4L722.9,1331.6L721.2,1331.4L718.6,1330.8L717.7,1328.7L717.1,1326.7L715.8,1325.7Z M685.9,1312.5L688.5,1313.1L690.8,1313.3L692.3,1315.4L694.3,1317.4L696.6,1318.9L698.6,1320.1L700.7,1321.8L702.9,1323.3L704.0,1325.0L704.2,1326.7L705.7,1328.4L707.4,1329.7L708.9,1331.0L708.7,1334.0L708.7,1336.8L706.8,1336.8L705.2,1335.7L702.9,1334.2L700.9,1332.9L699.2,1331.0L697.9,1329.3L696.9,1327.0L695.6,1324.8L694.1,1323.3L693.0,1321.0L691.5,1319.3L689.5,1317.2L687.8,1315.4L686.3,1313.9Z M707.2,1338.9L708.9,1337.2L710.6,1337.2L713.2,1338.1L714.9,1338.9L717.5,1339.1L719.2,1338.1L720.7,1338.7L723.1,1339.1L725.0,1340.8L727.2,1341.1L727.2,1343.0L724.0,1342.1L720.7,1342.1L717.5,1341.5L714.3,1341.1L711.0,1340.6L709.5,1340.2Z M727.4,1341.9L729.5,1341.9L731.0,1342.1L733.6,1341.9L736.4,1342.1L737.9,1342.6L741.1,1342.3L745.0,1341.9L745.5,1342.6L742.2,1343.4L738.6,1343.2L735.8,1343.2L732.5,1343.6L730.4,1343.4L728.7,1343.2Z M736.9,1344.7L739.4,1344.7L740.7,1346.2L738.4,1345.8Z M746.5,1346.4L748.7,1344.3L751.5,1342.8L754.5,1342.3L753.0,1343.6L749.8,1345.3L747.6,1346.4Z M737.7,1336.1L738.1,1332.9L737.7,1331.6L736.4,1330.4L737.5,1327.2L738.6,1324.4L739.0,1322.7L740.7,1321.6L743.3,1322.3L746.1,1322.5L748.7,1321.6L750.2,1321.0L749.3,1322.7L747.2,1323.5L744.4,1323.3L741.6,1323.3L739.6,1324.4L739.2,1326.1L741.1,1327.2L742.9,1326.3L746.1,1326.3L745.0,1327.6L742.7,1328.4L743.9,1330.8L745.2,1333.4L743.9,1334.6L742.4,1334.4L742.2,1332.5L741.1,1330.4L739.9,1330.6L740.1,1332.9L739.9,1336.1Z M755.1,1319.9L756.2,1320.8L757.7,1321.8L756.6,1323.3L756.2,1325.9L755.6,1323.8L755.1,1321.8Z M756.2,1331.2L759.4,1330.6L762.2,1331.4L760.1,1331.9L757.3,1331.9Z M751.9,1331.2L754.0,1331.0L754.5,1332.3L752.5,1332.5Z M762.6,1326.1L765.9,1325.3L768.0,1325.9L769.5,1326.5L769.7,1329.1L771.2,1331.4L773.4,1329.9L776.6,1327.8L779.8,1328.7L784.1,1329.9L788.5,1331.6L791.7,1332.5L794.5,1334.6L794.9,1336.1L798.1,1337.2L798.8,1338.7L797.0,1338.9L798.1,1341.1L800.3,1343.2L802.4,1344.9L804.6,1346.4L803.5,1347.3L800.3,1346.2L797.5,1344.7L794.9,1342.6L792.1,1340.6L789.5,1341.9L788.9,1343.6L786.9,1344.1L784.1,1343.8L780.9,1341.7L778.1,1342.3L779.4,1340.0L778.8,1337.8L777.3,1335.7L774.5,1334.4L771.9,1333.8L769.1,1332.7L767.0,1332.9L766.3,1331.6L765.2,1330.4L768.0,1329.7L765.9,1329.1L763.7,1327.6L762.4,1327.2Z M800.1,1336.1L803.5,1335.3L806.7,1333.4L808.4,1333.6L807.8,1335.7L805.2,1337.2L802.4,1337.8Z M805.2,1329.9L807.8,1331.4L810.0,1333.6L809.3,1334.0L806.7,1331.4Z M813.6,1336.1L816.0,1338.3L814.9,1338.9Z M823.9,1344.3L826.7,1345.3L825.6,1345.6Z M839.2,1357.0L840.5,1357.7L840.0,1358.8Z M833.6,1367.8L836.8,1369.8L840.0,1372.7L839.0,1372.9L835.8,1370.9Z M862.2,1362.1L864.8,1362.1L864.8,1363.6L862.6,1363.6Z M787.4,1347.3L788.9,1350.1L789.7,1353.3L790.4,1355.5L793.4,1356.4L793.6,1359.2L794.7,1361.0L795.3,1364.3L797.0,1366.0L800.3,1368.0L801.8,1370.3L803.5,1372.5L805.2,1375.2L807.4,1377.0L809.5,1378.8L810.4,1380.6L810.2,1383.4L811.0,1386.1L810.8,1389.1L810.0,1391.9L809.1,1395.0L807.4,1397.1L806.3,1399.5L805.2,1402.1L803.9,1405.3L803.3,1408.2L800.3,1409.2L797.7,1410.5L795.8,1412.2L793.8,1410.7L792.5,1409.5L790.6,1410.7L789.5,1411.5L786.3,1410.5L783.7,1409.5L781.6,1407.5L780.9,1404.6L779.4,1403.6L778.8,1401.9L777.7,1400.5L777.5,1402.4L775.5,1402.4L776.6,1399.7L777.5,1397.4L777.3,1396.4L775.5,1398.8L773.4,1401.2L772.8,1401.9L771.7,1400.5L770.2,1397.8L769.1,1396.4L767.0,1395.2L763.7,1393.8L760.5,1394.0L757.3,1394.7L754.0,1395.5L750.8,1396.4L747.6,1397.4L745.9,1399.5L743.3,1399.5L740.1,1399.5L737.5,1400.7L734.7,1402.1L731.9,1402.1L729.3,1401.2L728.5,1400.5L728.2,1398.8L729.8,1397.8L729.8,1395.0L729.3,1392.6L728.2,1390.3L727.8,1388.0L726.5,1385.2L725.2,1382.4L725.5,1381.1L724.8,1378.8L725.0,1376.5L725.5,1373.8L725.9,1372.0L726.7,1372.9L727.6,1371.6L729.3,1370.7L731.5,1369.4L733.6,1368.9L736.0,1368.3L738.4,1367.6L740.7,1366.9L742.4,1364.9L743.7,1363.2L743.7,1361.2L745.2,1360.1L746.5,1361.8L747.0,1359.7L748.7,1359.2L749.3,1357.3L750.8,1355.5L753.0,1354.4L754.7,1354.9L756.2,1356.4L757.3,1356.2L759.4,1356.4L759.9,1354.0L761.1,1352.3L762.2,1351.0L764.4,1350.5L766.1,1350.3L766.1,1348.8L768.0,1349.7L770.2,1350.3L772.3,1350.3L774.5,1350.1L775.3,1351.0L774.0,1352.9L773.2,1354.9L772.3,1356.6L774.5,1358.1L776.6,1359.2L778.8,1360.5L780.9,1362.3L783.3,1362.3L784.1,1360.5L785.2,1358.1L785.4,1355.5L785.7,1352.7L785.9,1350.7L786.5,1348.8Z M792.1,1416.2L796.0,1417.2L799.6,1416.5L799.8,1419.5L798.8,1422.4L796.0,1423.6L794.0,1422.1L793.2,1420.0L792.3,1418.2Z M774.7,1403.8L777.7,1404.1L776.6,1404.8Z M760.9,1348.8L763.7,1348.8L762.6,1349.7Z M774.3,1354.0L775.3,1354.4L774.7,1355.1Z M852.3,1400.7L853.6,1402.1L855.5,1403.4L856.8,1405.5L858.3,1405.8L859.2,1408.0L861.5,1409.2L864.8,1408.7L863.7,1411.9L861.5,1412.7L861.5,1414.5L860.0,1416.7L857.9,1418.5L856.6,1417.7L857.5,1415.2L856.2,1413.7L854.7,1412.7L856.4,1411.0L856.8,1408.2L855.7,1406.0L854.0,1403.6L852.7,1402.1Z M852.3,1415.7L854.7,1416.7L855.7,1418.5L854.2,1420.8L852.7,1422.9L853.2,1424.2L850.8,1424.7L849.1,1426.3L848.2,1429.4L846.1,1431.3L843.3,1431.6L840.7,1430.8L839.0,1429.7L839.6,1427.3L842.2,1425.2L845.0,1423.4L847.6,1421.8L849.7,1419.3L851.0,1416.7Z M841.1,1432.4L842.6,1432.4L841.8,1433.4Z M652.8,1303.7L654.3,1304.3L655.8,1306.2L656.9,1308.8L656.4,1310.7L654.3,1311.8L653.0,1310.7L652.4,1307.3Z M550.4,1246.7L553.0,1245.7L555.4,1245.2L554.1,1246.7L552.0,1247.6Z M531.5,1245.2L534.8,1245.7L537.5,1246.2L534.8,1246.9L531.7,1246.2Z M507.7,1239.3L510.0,1238.8L514.5,1238.6L513.5,1241.1L513.5,1242.5L511.1,1241.8L508.5,1240.6Z M498.6,1232.1L500.8,1231.3L502.1,1233.1L501.6,1236.4L499.9,1236.9L499.1,1234.9Z M499.5,1228.3L501.2,1226.7L501.4,1229.3L500.8,1230.8L499.7,1229.8Z M486.2,1235.4L487.9,1234.6L487.9,1235.9L486.8,1236.1Z M504.6,1191.5L507.9,1190.6L507.9,1193.0L506.4,1193.6L505.1,1192.7Z M502.1,1192.1L504.0,1192.1L504.0,1193.3L502.5,1193.3Z M520.1,1184.9L521.9,1185.2L521.0,1187.6L519.9,1186.7Z M516.3,1190.0L517.8,1186.7L516.7,1188.2Z M527.9,1183.0L530.5,1182.7L530.0,1184.2L528.3,1184.5Z M528.7,1181.4L530.5,1181.4L529.8,1182.4Z M508.9,1151.0L512.2,1149.5L515.0,1146.6L513.2,1149.2L510.0,1151.4Z M595.8,1297.4L598.2,1297.4L597.1,1298.1Z M680.5,1295.5L681.0,1297.6L680.3,1299.6L680.1,1297.6Z M815.3,1207.1L816.8,1206.0L816.4,1207.4Z M797.0,1221.5L800.9,1220.2L799.2,1221.5Z M793.8,1224.4L796.0,1223.1L794.9,1224.6Z M832.3,1183.0L834.2,1181.1L833.6,1183.0Z M775.5,1194.5L778.1,1193.0L777.7,1194.2Z M752.3,1250.5L753.8,1250.3L753.2,1251.0Z M462.1,1139.7L463.8,1139.3L462.9,1140.5Z" fill="#9ccbd0" stroke="#9ccbd0" stroke-width="0.6" stroke-linejoin="round"/>
<path d="M283.2,1217.0L286.4,1214.8L289.2,1213.5L291.8,1211.3L295.0,1211.6L297.2,1213.7L298.9,1216.4L297.2,1217.0L294.0,1217.5L291.2,1216.2L288.6,1216.7L286.4,1217.2Z M292.2,1229.8L294.4,1229.8L295.5,1226.7L295.7,1222.8L297.6,1220.7L298.2,1219.1L295.0,1219.4L293.5,1220.7L292.0,1222.8L292.7,1225.4Z M299.3,1218.8L302.6,1218.6L306.2,1219.1L309.0,1221.5L309.0,1222.8L306.2,1222.5L305.3,1225.9L303.6,1226.7L303.0,1224.1L300.8,1224.9L301.7,1221.5L300.0,1219.9Z M301.7,1230.3L304.7,1230.6L307.9,1229.3L311.1,1227.5L310.7,1227.0L306.9,1227.5L303.6,1229.0L301.9,1229.3Z M309.4,1225.9L313.3,1225.9L317.0,1225.2L316.7,1223.6L314.4,1224.1L310.5,1224.9Z M268.6,1197.1L270.7,1196.9L273.5,1203.8L274.0,1206.8L272.5,1206.8L270.3,1202.3Z M230.5,1174.4L233.8,1175.1L238.1,1172.5L243.4,1169.8L245.6,1169.2L240.2,1170.8L234.8,1171.1L231.6,1172.8Z M217.6,1160.3L221.9,1161.0L225.2,1158.9L226.2,1156.4L223.0,1155.3L219.8,1157.5L216.6,1157.8Z M241.3,1182.4L246.7,1181.1L252.0,1180.5L246.7,1179.9L241.3,1181.1Z M260.0,1189.1L262.8,1187.6L262.1,1184.5L259.6,1186.1Z M327.3,1157.5L330.5,1157.1L329.9,1155.0L327.3,1155.7Z M582.0,1219.6L586.4,1217.5L590.6,1216.4L595.0,1217.0L595.0,1220.7L591.3,1221.5L590.2,1223.6L593.9,1227.2L595.0,1229.8L594.5,1232.6L596.7,1234.3L597.1,1238.1L596.7,1241.8L592.8,1242.5L589.1,1241.1L586.4,1238.6L587.4,1233.8L585.3,1229.8L583.1,1226.7L581.6,1222.8Z M606.3,1221.5L607.9,1218.0L611.1,1217.0L613.2,1218.8L612.1,1222.8L609.6,1225.2L607.0,1224.6Z M704.2,1203.5L706.8,1203.5L710.0,1201.2L714.3,1197.7L717.1,1193.0L717.3,1191.2L715.4,1191.8L713.2,1195.1L710.0,1198.6L706.8,1200.6Z M639.0,1218.8L641.2,1221.5L644.4,1218.3L648.7,1218.0L650.9,1217.2L649.8,1216.4L644.4,1216.7L641.2,1217.2Z M546.6,1178.3L548.7,1175.1L551.7,1174.4L551.5,1177.3L548.7,1178.6Z M555.2,1175.1L556.2,1170.1L559.0,1171.8L558.0,1175.1Z M507.9,1183.0L510.0,1180.5L511.1,1182.1L508.9,1183.6Z M549.4,1325.0L550.9,1323.5L554.1,1323.8L554.3,1326.5L553.0,1329.3L550.9,1330.2L549.4,1328.7L548.9,1326.5Z M543.6,1331.6L544.9,1331.9L545.3,1335.1L547.2,1339.3L547.9,1343.0L546.6,1342.8L544.4,1338.3L543.8,1335.1Z M553.9,1344.7L555.2,1345.1L555.8,1349.0L556.0,1352.3L556.7,1355.1L555.4,1355.1L554.7,1351.2L554.3,1347.9Z" fill="#fff"/>
</g>
<circle cx="295.9" cy="1162.0" r="14.2" fill="#454270" style="mix-blend-mode:multiply"/>
<circle cx="339.9" cy="1262.1" r="27.6" fill="#42416c" style="mix-blend-mode:multiply"/>
<circle cx="329.3" cy="1339.6" r="25.6" fill="#454270" style="mix-blend-mode:multiply"/>
<circle cx="500.5" cy="1206.0" r="30.9" fill="#454270" style="mix-blend-mode:multiply"/>
<circle cx="576.4" cy="1224.8" r="28.8" fill="#454270" style="mix-blend-mode:multiply"/>
<circle cx="526.8" cy="1304.2" r="36.2" fill="#454270" style="mix-blend-mode:multiply"/>
<circle cx="667.8" cy="1228.7" r="45.0" fill="#555987" style="mix-blend-mode:multiply"/>
<circle cx="775.6" cy="1194.9" r="54.3" fill="#8d8ca8" style="mix-blend-mode:multiply"/>
<circle cx="739.0" cy="1283.3" r="60.6" fill="#5b5980" style="mix-blend-mode:multiply"/>
<circle cx="812.2" cy="1374.6" r="32.0" fill="#454270" style="mix-blend-mode:multiply"/>
<polyline points="205.7,1099.3 235.2,1099.3 288.5,1154.0" fill="none" stroke="#2a2b5c" stroke-width="1.1"/>
<polyline points="203.9,1182.0 230.5,1208.3 483.0,1208.3" fill="none" stroke="#2a2b5c" stroke-width="1.1"/>
<polyline points="205.7,1261.3 318.0,1261.3" fill="none" stroke="#2a2b5c" stroke-width="1.1"/>
<polyline points="205.7,1338.3 310.0,1338.3" fill="none" stroke="#2a2b5c" stroke-width="1.1"/>
<polyline points="205.7,1417.8 419.0,1417.8 517.5,1320.3" fill="none" stroke="#2a2b5c" stroke-width="1.1"/>
<polyline points="873.1,1101.6 692.3,1101.6 590.5,1203.0" fill="none" stroke="#2a2b5c" stroke-width="1.1"/>
<polyline points="873.1,1182.6 802.8,1182.6 783.3,1201.0" fill="none" stroke="#2a2b5c" stroke-width="1.1"/>
<polyline points="873.1,1263.2 865.3,1263.2 824.0,1221.7 708.3,1221.7" fill="none" stroke="#2a2b5c" stroke-width="1.1"/>
<polyline points="873.1,1341.1 857.8,1341.1 794.2,1294.4" fill="none" stroke="#2a2b5c" stroke-width="1.1"/>
<polyline points="873.1,1416.7 861.2,1416.7 824.5,1378.8" fill="none" stroke="#2a2b5c" stroke-width="1.1"/>
<text x="287.4" y="1165.8" font-family="Liberation Sans, sans-serif" font-size="13.4" font-weight="700" fill="#fff" textLength="17.0" lengthAdjust="spacingAndGlyphs">2%</text>
<text x="324.7" y="1269.1" font-family="Liberation Sans, sans-serif" font-size="17.2" font-weight="700" fill="#fff" textLength="31.7" lengthAdjust="spacingAndGlyphs">7.3%</text>
<text x="314.3" y="1345.9" font-family="Liberation Sans, sans-serif" font-size="17.0" font-weight="700" fill="#fff" textLength="30.9" lengthAdjust="spacingAndGlyphs">4.8%</text>
<text x="490.3" y="1212.5" font-family="Liberation Sans, sans-serif" font-size="18.4" font-weight="700" fill="#fff" textLength="22.0" lengthAdjust="spacingAndGlyphs">5%</text>
<text x="565.3" y="1234.3" font-family="Liberation Sans, sans-serif" font-size="19.8" font-weight="700" fill="#fff" textLength="23.8" lengthAdjust="spacingAndGlyphs">7%</text>
<text x="511.3" y="1309.1" font-family="Liberation Sans, sans-serif" font-size="17.8" font-weight="700" fill="#fff" textLength="32.0" lengthAdjust="spacingAndGlyphs">9.5%</text>
<text x="642.0" y="1235.7" font-family="Liberation Sans, sans-serif" font-size="24.3" font-weight="700" fill="#fff" textLength="45.8" lengthAdjust="spacingAndGlyphs">9.2%</text>
<text x="753.0" y="1200.9" font-family="Liberation Sans, sans-serif" font-size="23.0" font-weight="700" fill="#fff" textLength="44.5" lengthAdjust="spacingAndGlyphs">19.5%</text>
<text x="709.6" y="1298.1" font-family="Liberation Sans, sans-serif" font-size="32.3" font-weight="700" fill="#fff" textLength="68.3" lengthAdjust="spacingAndGlyphs">19.9%</text>
<text x="795.9" y="1376.8" font-family="Liberation Sans, sans-serif" font-size="15.5" font-weight="700" fill="#fff" textLength="32.3" lengthAdjust="spacingAndGlyphs">6.7%</text>
<rect x="28.7" y="1085.0" width="177.0" height="31.2" fill="#0a0f3c"/>
<rect x="28.7" y="1116.2" width="177.0" height="38.6" fill="#e2e4e4"/>
<text x="38.0" y="1106.8" font-family="Liberation Sans, sans-serif" font-size="17.0" font-weight="700" fill="#fff" textLength="110.2" lengthAdjust="spacingAndGlyphs">North America</text>
<circle cx="47.6" cy="1137.0" r="9.6" fill="#0a0b3d"/>
<g transform="translate(47.60,1137.00) scale(0.5614)"><path d="M3.7,-4.6 C2.7,-6.8 0.9,-7.4 -0.4,-7.4 C-2.6,-7.4 -3.9,-5.8 -3.9,-4.0 C-3.9,-1.5 -1.8,-0.8 0.1,0.0 C2.4,0.9 4.0,1.8 4.0,4.0 C4.0,6.0 2.4,7.4 0.2,7.4 C-1.8,7.4 -3.4,6.6 -4.2,4.5" fill="none" stroke="#fff" stroke-width="3.0"/><rect x="-1.25" y="-11.2" width="2.5" height="3.6" fill="#fff"/><rect x="-1.25" y="7.6" width="2.5" height="3.6" fill="#fff"/></g>
<text x="61.9" y="1142.0" font-family="Liberation Sans, sans-serif" font-size="14.0" font-weight="400" fill="#2b2b33" textLength="40.9" lengthAdjust="spacingAndGlyphs">2.96 TN</text>
<circle cx="131.9" cy="1137.0" r="9.6" fill="#0a0b3d"/>
<path d="M132.25,1136.90 L133.18,1132.22 A4.95,4.95 0 1 0 136.85,1137.00 Z" fill="#fff"/>
<path d="M134.18,1134.97 L135.60,1131.07 A4.16,4.16 0 0 1 138.33,1134.97 Z" fill="#fff"/>
<text x="146.7" y="1142.0" font-family="Liberation Sans, sans-serif" font-size="14.0" font-weight="400" fill="#2b2b33" textLength="24.9" lengthAdjust="spacingAndGlyphs">8.9%</text>
<rect x="26.9" y="1162.6" width="177.0" height="31.3" fill="#0a0f3c"/>
<rect x="26.9" y="1193.9" width="177.0" height="37.4" fill="#e2e4e4"/>
<text x="35.4" y="1187.9" font-family="Liberation Sans, sans-serif" font-size="17.0" font-weight="700" fill="#fff" textLength="51.6" lengthAdjust="spacingAndGlyphs">Europe</text>
<circle cx="45.5" cy="1214.4" r="9.6" fill="#0a0b3d"/>
<g transform="translate(45.50,1214.40) scale(0.5614)"><path d="M3.7,-4.6 C2.7,-6.8 0.9,-7.4 -0.4,-7.4 C-2.6,-7.4 -3.9,-5.8 -3.9,-4.0 C-3.9,-1.5 -1.8,-0.8 0.1,0.0 C2.4,0.9 4.0,1.8 4.0,4.0 C4.0,6.0 2.4,7.4 0.2,7.4 C-1.8,7.4 -3.4,6.6 -4.2,4.5" fill="none" stroke="#fff" stroke-width="3.0"/><rect x="-1.25" y="-11.2" width="2.5" height="3.6" fill="#fff"/><rect x="-1.25" y="7.6" width="2.5" height="3.6" fill="#fff"/></g>
<text x="59.8" y="1219.4" font-family="Liberation Sans, sans-serif" font-size="14.0" font-weight="400" fill="#2b2b33" textLength="38.9" lengthAdjust="spacingAndGlyphs">2.73 TN</text>
<circle cx="129.5" cy="1214.4" r="9.6" fill="#0a0b3d"/>
<path d="M129.85,1214.30 L130.78,1209.62 A4.95,4.95 0 1 0 134.45,1214.40 Z" fill="#fff"/>
<path d="M131.78,1212.37 L133.20,1208.47 A4.16,4.16 0 0 1 135.93,1212.37 Z" fill="#fff"/>
<text x="144.3" y="1219.4" font-family="Liberation Sans, sans-serif" font-size="14.0" font-weight="400" fill="#2b2b33" textLength="24.6" lengthAdjust="spacingAndGlyphs">9.6%</text>
<rect x="28.7" y="1244.3" width="177.0" height="31.1" fill="#0a0f3c"/>
<rect x="28.7" y="1275.4" width="177.0" height="37.6" fill="#e2e4e4"/>
<text x="38.0" y="1268.9" font-family="Liberation Sans, sans-serif" font-size="17.0" font-weight="700" fill="#fff" textLength="75.7" lengthAdjust="spacingAndGlyphs">Caribbean</text>
<circle cx="47.6" cy="1296.2" r="9.6" fill="#0a0b3d"/>
<g transform="translate(47.60,1296.20) scale(0.5614)"><path d="M3.7,-4.6 C2.7,-6.8 0.9,-7.4 -0.4,-7.4 C-2.6,-7.4 -3.9,-5.8 -3.9,-4.0 C-3.9,-1.5 -1.8,-0.8 0.1,0.0 C2.4,0.9 4.0,1.8 4.0,4.0 C4.0,6.0 2.4,7.4 0.2,7.4 C-1.8,7.4 -3.4,6.6 -4.2,4.5" fill="none" stroke="#fff" stroke-width="3.0"/><rect x="-1.25" y="-11.2" width="2.5" height="3.6" fill="#fff"/><rect x="-1.25" y="7.6" width="2.5" height="3.6" fill="#fff"/></g>
<text x="61.9" y="1301.2" font-family="Liberation Sans, sans-serif" font-size="14.0" font-weight="400" fill="#2b2b33" textLength="38.8" lengthAdjust="spacingAndGlyphs">81.4 BN</text>
<circle cx="131.9" cy="1296.2" r="9.6" fill="#0a0b3d"/>
<path d="M132.25,1296.10 L133.18,1291.42 A4.95,4.95 0 1 0 136.85,1296.20 Z" fill="#fff"/>
<path d="M134.18,1294.17 L135.60,1290.27 A4.16,4.16 0 0 1 138.33,1294.17 Z" fill="#fff"/>
<text x="146.7" y="1301.2" font-family="Liberation Sans, sans-serif" font-size="14.0" font-weight="400" fill="#2b2b33" textLength="27.3" lengthAdjust="spacingAndGlyphs">17.6%</text>
<rect x="28.7" y="1323.3" width="177.0" height="30.6" fill="#0a0f3c"/>
<rect x="28.7" y="1353.9" width="177.0" height="38.1" fill="#e2e4e4"/>
<text x="35.9" y="1345.0" font-family="Liberation Sans, sans-serif" font-size="16.2" font-weight="700" fill="#fff" textLength="163.4" lengthAdjust="spacingAndGlyphs">Central &amp; South America</text>
<circle cx="47.6" cy="1375.1" r="9.6" fill="#0a0b3d"/>
<g transform="translate(47.60,1375.10) scale(0.5614)"><path d="M3.7,-4.6 C2.7,-6.8 0.9,-7.4 -0.4,-7.4 C-2.6,-7.4 -3.9,-5.8 -3.9,-4.0 C-3.9,-1.5 -1.8,-0.8 0.1,0.0 C2.4,0.9 4.0,1.8 4.0,4.0 C4.0,6.0 2.4,7.4 0.2,7.4 C-1.8,7.4 -3.4,6.6 -4.2,4.5" fill="none" stroke="#fff" stroke-width="3.0"/><rect x="-1.25" y="-11.2" width="2.5" height="3.6" fill="#fff"/><rect x="-1.25" y="7.6" width="2.5" height="3.6" fill="#fff"/></g>
<text x="61.9" y="1380.1" font-family="Liberation Sans, sans-serif" font-size="14.0" font-weight="400" fill="#2b2b33" textLength="38.3" lengthAdjust="spacingAndGlyphs">359 BN</text>
<circle cx="131.9" cy="1375.1" r="9.6" fill="#0a0b3d"/>
<path d="M132.25,1375.00 L133.18,1370.32 A4.95,4.95 0 1 0 136.85,1375.10 Z" fill="#fff"/>
<path d="M134.18,1373.07 L135.60,1369.17 A4.16,4.16 0 0 1 138.33,1373.07 Z" fill="#fff"/>
<text x="146.7" y="1380.1" font-family="Liberation Sans, sans-serif" font-size="14.0" font-weight="400" fill="#2b2b33" textLength="23.4" lengthAdjust="spacingAndGlyphs">7.5%</text>
<rect x="28.7" y="1403.2" width="177.0" height="31.6" fill="#0a0f3c"/>
<rect x="28.7" y="1434.8" width="177.0" height="37.6" fill="#e2e4e4"/>
<text x="38.0" y="1423.2" font-family="Liberation Sans, sans-serif" font-size="17.0" font-weight="700" fill="#fff" textLength="43.8" lengthAdjust="spacingAndGlyphs">Africa</text>
<circle cx="47.6" cy="1454.9" r="9.6" fill="#0a0b3d"/>
<g transform="translate(47.60,1454.90) scale(0.5614)"><path d="M3.7,-4.6 C2.7,-6.8 0.9,-7.4 -0.4,-7.4 C-2.6,-7.4 -3.9,-5.8 -3.9,-4.0 C-3.9,-1.5 -1.8,-0.8 0.1,0.0 C2.4,0.9 4.0,1.8 4.0,4.0 C4.0,6.0 2.4,7.4 0.2,7.4 C-1.8,7.4 -3.4,6.6 -4.2,4.5" fill="none" stroke="#fff" stroke-width="3.0"/><rect x="-1.25" y="-11.2" width="2.5" height="3.6" fill="#fff"/><rect x="-1.25" y="7.6" width="2.5" height="3.6" fill="#fff"/></g>
<text x="61.9" y="1459.9" font-family="Liberation Sans, sans-serif" font-size="14.0" font-weight="400" fill="#2b2b33" textLength="32.9" lengthAdjust="spacingAndGlyphs">211 BN</text>
<circle cx="131.9" cy="1454.9" r="9.6" fill="#0a0b3d"/>
<path d="M132.25,1454.80 L133.18,1450.12 A4.95,4.95 0 1 0 136.85,1454.90 Z" fill="#fff"/>
<path d="M134.18,1452.87 L135.60,1448.97 A4.16,4.16 0 0 1 138.33,1452.87 Z" fill="#fff"/>
<text x="146.7" y="1459.9" font-family="Liberation Sans, sans-serif" font-size="14.0" font-weight="400" fill="#2b2b33" textLength="24.1" lengthAdjust="spacingAndGlyphs">7.8%</text>
<rect x="873.1" y="1085.0" width="176.8" height="31.2" fill="#0a0f3c"/>
<rect x="873.1" y="1116.2" width="176.8" height="38.1" fill="#e2e4e4"/>
<text x="878.6" y="1106.4" font-family="Liberation Sans, sans-serif" font-size="17.0" font-weight="700" fill="#fff" textLength="86.0" lengthAdjust="spacingAndGlyphs">Middle East</text>
<circle cx="891.3" cy="1137.0" r="9.6" fill="#0a0b3d"/>
<g transform="translate(891.30,1137.00) scale(0.5614)"><path d="M3.7,-4.6 C2.7,-6.8 0.9,-7.4 -0.4,-7.4 C-2.6,-7.4 -3.9,-5.8 -3.9,-4.0 C-3.9,-1.5 -1.8,-0.8 0.1,0.0 C2.4,0.9 4.0,1.8 4.0,4.0 C4.0,6.0 2.4,7.4 0.2,7.4 C-1.8,7.4 -3.4,6.6 -4.2,4.5" fill="none" stroke="#fff" stroke-width="3.0"/><rect x="-1.25" y="-11.2" width="2.5" height="3.6" fill="#fff"/><rect x="-1.25" y="7.6" width="2.5" height="3.6" fill="#fff"/></g>
<text x="905.6" y="1142.0" font-family="Liberation Sans, sans-serif" font-size="14.0" font-weight="400" fill="#2b2b33" textLength="38.1" lengthAdjust="spacingAndGlyphs">342 BN</text>
<circle cx="975.8" cy="1137.0" r="9.6" fill="#0a0b3d"/>
<path d="M976.15,1136.90 L977.08,1132.22 A4.95,4.95 0 1 0 980.75,1137.00 Z" fill="#fff"/>
<path d="M978.08,1134.97 L979.50,1131.07 A4.16,4.16 0 0 1 982.23,1134.97 Z" fill="#fff"/>
<text x="990.6" y="1142.0" font-family="Liberation Sans, sans-serif" font-size="14.0" font-weight="400" fill="#2b2b33" textLength="29.3" lengthAdjust="spacingAndGlyphs">10.0%</text>
<rect x="873.1" y="1162.0" width="176.8" height="30.6" fill="#0a0f3c"/>
<rect x="873.1" y="1192.6" width="176.8" height="38.1" fill="#e2e4e4"/>
<circle cx="888.6" cy="1217.3" r="10.6" fill="#d3d4dc"/>
<text x="878.6" y="1186.7" font-family="Liberation Sans, sans-serif" font-size="17.0" font-weight="700" fill="#fff" textLength="114.0" lengthAdjust="spacingAndGlyphs">North East Asia</text>
<circle cx="891.3" cy="1214.1" r="9.6" fill="#0a0b3d"/>
<g transform="translate(891.30,1214.10) scale(0.5614)"><path d="M3.7,-4.6 C2.7,-6.8 0.9,-7.4 -0.4,-7.4 C-2.6,-7.4 -3.9,-5.8 -3.9,-4.0 C-3.9,-1.5 -1.8,-0.8 0.1,0.0 C2.4,0.9 4.0,1.8 4.0,4.0 C4.0,6.0 2.4,7.4 0.2,7.4 C-1.8,7.4 -3.4,6.6 -4.2,4.5" fill="none" stroke="#fff" stroke-width="3.0"/><rect x="-1.25" y="-11.2" width="2.5" height="3.6" fill="#fff"/><rect x="-1.25" y="7.6" width="2.5" height="3.6" fill="#fff"/></g>
<text x="905.6" y="1219.1" font-family="Liberation Sans, sans-serif" font-size="14.0" font-weight="400" fill="#2b2b33" textLength="38.1" lengthAdjust="spacingAndGlyphs">2.15 TN</text>
<circle cx="975.8" cy="1214.1" r="9.6" fill="#0a0b3d"/>
<path d="M976.15,1214.00 L977.08,1209.32 A4.95,4.95 0 1 0 980.75,1214.10 Z" fill="#fff"/>
<path d="M978.08,1212.07 L979.50,1208.17 A4.16,4.16 0 0 1 982.23,1212.07 Z" fill="#fff"/>
<text x="990.6" y="1219.1" font-family="Liberation Sans, sans-serif" font-size="14.0" font-weight="400" fill="#2b2b33" textLength="24.6" lengthAdjust="spacingAndGlyphs">8.4%</text>
<rect x="873.1" y="1242.9" width="176.8" height="30.6" fill="#0a0f3c"/>
<rect x="873.1" y="1273.5" width="176.8" height="38.1" fill="#e2e4e4"/>
<text x="878.6" y="1267.6" font-family="Liberation Sans, sans-serif" font-size="17.0" font-weight="700" fill="#fff" textLength="78.8" lengthAdjust="spacingAndGlyphs">South Asia</text>
<circle cx="891.3" cy="1294.2" r="9.6" fill="#0a0b3d"/>
<g transform="translate(891.30,1294.20) scale(0.5614)"><path d="M3.7,-4.6 C2.7,-6.8 0.9,-7.4 -0.4,-7.4 C-2.6,-7.4 -3.9,-5.8 -3.9,-4.0 C-3.9,-1.5 -1.8,-0.8 0.1,0.0 C2.4,0.9 4.0,1.8 4.0,4.0 C4.0,6.0 2.4,7.4 0.2,7.4 C-1.8,7.4 -3.4,6.6 -4.2,4.5" fill="none" stroke="#fff" stroke-width="3.0"/><rect x="-1.25" y="-11.2" width="2.5" height="3.6" fill="#fff"/><rect x="-1.25" y="7.6" width="2.5" height="3.6" fill="#fff"/></g>
<text x="905.6" y="1299.2" font-family="Liberation Sans, sans-serif" font-size="14.0" font-weight="400" fill="#2b2b33" textLength="39.4" lengthAdjust="spacingAndGlyphs">304 BN</text>
<circle cx="975.8" cy="1294.2" r="9.6" fill="#0a0b3d"/>
<path d="M976.15,1294.10 L977.08,1289.42 A4.95,4.95 0 1 0 980.75,1294.20 Z" fill="#fff"/>
<path d="M978.08,1292.17 L979.50,1288.27 A4.16,4.16 0 0 1 982.23,1292.17 Z" fill="#fff"/>
<text x="990.6" y="1299.2" font-family="Liberation Sans, sans-serif" font-size="14.0" font-weight="400" fill="#2b2b33" textLength="24.6" lengthAdjust="spacingAndGlyphs">6.3%</text>
<rect x="873.1" y="1323.3" width="176.8" height="30.6" fill="#0a0f3c"/>
<rect x="873.1" y="1353.9" width="176.8" height="37.6" fill="#e2e4e4"/>
<text x="878.6" y="1345.4" font-family="Liberation Sans, sans-serif" font-size="17.0" font-weight="700" fill="#fff" textLength="112.7" lengthAdjust="spacingAndGlyphs">South East Asia</text>
<circle cx="891.3" cy="1375.1" r="9.6" fill="#0a0b3d"/>
<g transform="translate(891.30,1375.10) scale(0.5614)"><path d="M3.7,-4.6 C2.7,-6.8 0.9,-7.4 -0.4,-7.4 C-2.6,-7.4 -3.9,-5.8 -3.9,-4.0 C-3.9,-1.5 -1.8,-0.8 0.1,0.0 C2.4,0.9 4.0,1.8 4.0,4.0 C4.0,6.0 2.4,7.4 0.2,7.4 C-1.8,7.4 -3.4,6.6 -4.2,4.5" fill="none" stroke="#fff" stroke-width="3.0"/><rect x="-1.25" y="-11.2" width="2.5" height="3.6" fill="#fff"/><rect x="-1.25" y="7.6" width="2.5" height="3.6" fill="#fff"/></g>
<text x="905.6" y="1380.1" font-family="Liberation Sans, sans-serif" font-size="14.0" font-weight="400" fill="#2b2b33" textLength="37.6" lengthAdjust="spacingAndGlyphs">374 BN</text>
<circle cx="975.8" cy="1375.1" r="9.6" fill="#0a0b3d"/>
<path d="M976.15,1375.00 L977.08,1370.32 A4.95,4.95 0 1 0 980.75,1375.10 Z" fill="#fff"/>
<path d="M978.08,1373.07 L979.50,1369.17 A4.16,4.16 0 0 1 982.23,1373.07 Z" fill="#fff"/>
<text x="990.6" y="1380.1" font-family="Liberation Sans, sans-serif" font-size="14.0" font-weight="400" fill="#2b2b33" textLength="23.8" lengthAdjust="spacingAndGlyphs">9.4%</text>
<rect x="873.1" y="1403.7" width="176.8" height="30.6" fill="#0a0f3c"/>
<rect x="873.1" y="1434.3" width="176.8" height="37.6" fill="#e2e4e4"/>
<text x="878.6" y="1422.4" font-family="Liberation Sans, sans-serif" font-size="17.0" font-weight="700" fill="#fff" textLength="60.1" lengthAdjust="spacingAndGlyphs">Oceania</text>
<circle cx="891.3" cy="1454.9" r="9.6" fill="#0a0b3d"/>
<g transform="translate(891.30,1454.90) scale(0.5614)"><path d="M3.7,-4.6 C2.7,-6.8 0.9,-7.4 -0.4,-7.4 C-2.6,-7.4 -3.9,-5.8 -3.9,-4.0 C-3.9,-1.5 -1.8,-0.8 0.1,0.0 C2.4,0.9 4.0,1.8 4.0,4.0 C4.0,6.0 2.4,7.4 0.2,7.4 C-1.8,7.4 -3.4,6.6 -4.2,4.5" fill="none" stroke="#fff" stroke-width="3.0"/><rect x="-1.25" y="-11.2" width="2.5" height="3.6" fill="#fff"/><rect x="-1.25" y="7.6" width="2.5" height="3.6" fill="#fff"/></g>
<text x="905.6" y="1459.9" font-family="Liberation Sans, sans-serif" font-size="14.0" font-weight="400" fill="#2b2b33" textLength="35.8" lengthAdjust="spacingAndGlyphs">231 BN</text>
<circle cx="975.8" cy="1454.9" r="9.6" fill="#0a0b3d"/>
<path d="M976.15,1454.80 L977.08,1450.12 A4.95,4.95 0 1 0 980.75,1454.90 Z" fill="#fff"/>
<path d="M978.08,1452.87 L979.50,1448.97 A4.16,4.16 0 0 1 982.23,1452.87 Z" fill="#fff"/>
<text x="990.6" y="1459.9" font-family="Liberation Sans, sans-serif" font-size="14.0" font-weight="400" fill="#2b2b33" textLength="25.9" lengthAdjust="spacingAndGlyphs">11.0%</text>
<path d="M124,1154.8 L128,1151.5 L150,1148.5 L176,1147.2 L192,1145.0 L205.7,1141.5 V1154.8 Z" fill="#dde0e1"/>
<circle cx="373.7" cy="1451.2" r="10.3" fill="#0a0b3d"/>
<g transform="translate(373.70,1451.20) scale(0.6023)"><path d="M3.7,-4.6 C2.7,-6.8 0.9,-7.4 -0.4,-7.4 C-2.6,-7.4 -3.9,-5.8 -3.9,-4.0 C-3.9,-1.5 -1.8,-0.8 0.1,0.0 C2.4,0.9 4.0,1.8 4.0,4.0 C4.0,6.0 2.4,7.4 0.2,7.4 C-1.8,7.4 -3.4,6.6 -4.2,4.5" fill="none" stroke="#fff" stroke-width="3.0"/><rect x="-1.25" y="-11.2" width="2.5" height="3.6" fill="#fff"/><rect x="-1.25" y="7.6" width="2.5" height="3.6" fill="#fff"/></g>
<text x="391.0" y="1456.0" font-family="Liberation Sans, sans-serif" font-size="13.4" font-weight="700" fill="#0a0b3d" textLength="75.6" lengthAdjust="spacingAndGlyphs">Total T&amp;T GDP</text>
<text x="391.0" y="1470.4" font-family="Liberation Sans, sans-serif" font-size="13.4" font-weight="700" fill="#0a0b3d" textLength="98.6" lengthAdjust="spacingAndGlyphs">Contribution (US$)</text>
<circle cx="546.9" cy="1451.2" r="10.3" fill="#0a0b3d"/>
<path d="M547.27,1451.09 L548.27,1446.07 A5.31,5.31 0 1 0 552.21,1451.20 Z" fill="#fff"/>
<path d="M549.34,1449.02 L550.87,1444.83 A4.46,4.46 0 0 1 553.80,1449.02 Z" fill="#fff"/>
<text x="563.3" y="1456.0" font-family="Liberation Sans, sans-serif" font-size="13.4" font-weight="700" fill="#0a0b3d" textLength="92.8" lengthAdjust="spacingAndGlyphs">% Share of Whole</text>
<text x="563.3" y="1470.4" font-family="Liberation Sans, sans-serif" font-size="13.4" font-weight="700" fill="#0a0b3d" textLength="74.8" lengthAdjust="spacingAndGlyphs">Economy GDP</text>
<circle cx="690.0" cy="1451.6" r="14.2" fill="#0a0b3d"/>
<text x="681.8" y="1455.8" font-family="Liberation Sans, sans-serif" font-size="11.4" font-weight="700" fill="#fff" textLength="17.4" lengthAdjust="spacingAndGlyphs">X%</text>
<text x="707.8" y="1456.0" font-family="Liberation Sans, sans-serif" font-size="13.4" font-weight="700" fill="#0a0b3d" textLength="127.8" lengthAdjust="spacingAndGlyphs">T&amp;T GDP Annual Change</text>
<text x="40.0" y="1505.0" font-family="Liberation Sans, sans-serif" font-size="14.6" font-weight="700" fill="#0a0b3d" textLength="10.5" lengthAdjust="spacingAndGlyphs">1.</text>
<text x="52.5" y="1505.0" font-family="Liberation Sans, sans-serif" font-size="14.6" font-weight="400" fill="#2b2b3a" textLength="968.5" lengthAdjust="spacingAndGlyphs">This data includes the direct, indirect, and induced impact of Travel &amp; Tourism. Source: WTTC and Oxford Economics. All values are in constant 2024  prices &amp;</text>
<text x="40.0" y="1522.6" font-family="Liberation Sans, sans-serif" font-size="14.6" font-weight="400" fill="#2b2b3a" textLength="255.0" lengthAdjust="spacingAndGlyphs">exchange rates. As reported in April 2025.</text>
<text x="40.0" y="1541.4" font-family="Liberation Sans, sans-serif" font-size="14.6" font-weight="700" fill="#0a0b3d" textLength="10.5" lengthAdjust="spacingAndGlyphs">2.</text>
<text x="54.5" y="1541.4" font-family="Liberation Sans, sans-serif" font-size="14.6" font-weight="400" fill="#2b2b3a" textLength="254.0" lengthAdjust="spacingAndGlyphs">CAGR = Compound Annual Growth Rate</text>
</g>
</svg></body></html>
